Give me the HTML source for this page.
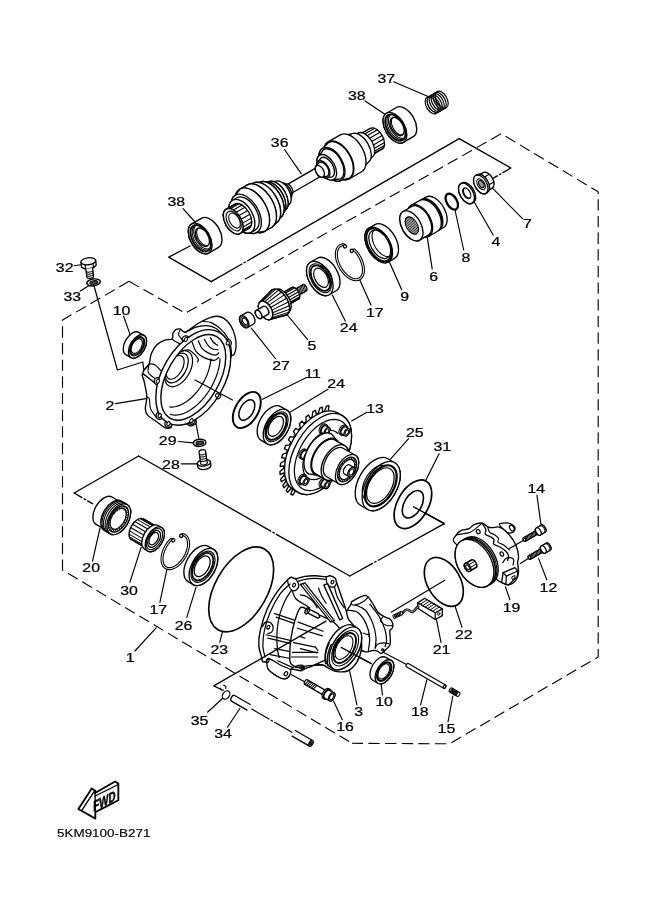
<!DOCTYPE html>
<html lang="en"><head><meta charset="utf-8"><title>Parts diagram 5KM9100-B271</title>
<style>
html,body{margin:0;padding:0;background:#fff}
svg{display:block;will-change:transform;transform:translateZ(0)}
svg *{stroke:#000;stroke-linecap:round;stroke-linejoin:round}
svg text{font-family:"Liberation Sans",sans-serif;stroke:#000;stroke-width:0.22px;fill:#000}
</style></head><body>
<svg width="661" height="913" viewBox="0 0 661 913" fill="none">
<rect x="0" y="0" width="661" height="913" fill="#fff" stroke="none" style="stroke:none"/>
<path d="M129,281.3 L62.5,320 L62.5,570 L352,743.3" stroke-width="1.12" fill="none" stroke-dasharray="11.3 5.36" stroke-dashoffset="0" style="stroke-linecap:butt;stroke-linejoin:miter"/>
<path d="M129,281.3 L185.4,313.2 L501.2,133.7 L598.2,191.8" stroke-width="1.12" fill="none" stroke-dasharray="11.3 5.36" stroke-dashoffset="0" style="stroke-linecap:butt;stroke-linejoin:miter"/>
<path d="M598.2,191.8 L598.2,657 L449.5,743.8 L352,743.3" stroke-width="1.12" fill="none" stroke-dasharray="11.3 5.36" stroke-dashoffset="9.2" style="stroke-linecap:butt;stroke-linejoin:miter"/>
<polyline points="190,246 168.7,257.2 211.2,281.7" stroke-width="1.34" fill="none"/>
<line x1="211.2" y1="281.7" x2="459.2" y2="138.7" stroke-width="1.34" stroke-dasharray="35.5 2.5 1.5 2.5 400"/>
<polyline points="459.2,138.7 510.7,168" stroke-width="1.34" fill="none"/>
<line x1="510.7" y1="168" x2="492.5" y2="178.7" stroke-width="1.34" stroke-dasharray="9 2.5 1.5 2.5"/>
<polyline points="74.2,493 138.6,456" stroke-width="1.34" fill="none"/>
<line x1="138.6" y1="456" x2="349.8" y2="576" stroke-width="1.34" stroke-dasharray="152 2.5 1.5 2.5 400"/>
<line x1="349.8" y1="576" x2="444.3" y2="523.6" stroke-width="1.34" stroke-dasharray="26 2.5 1.5 2.5 400"/>
<polyline points="444.3,523.6 413.6,506.8" stroke-width="1.34" fill="none"/>
<line x1="74.2" y1="493" x2="92.4" y2="503.7" stroke-width="1.34" stroke-dasharray="9 2.5 1.5 2.5"/>
<line x1="284.5" y1="149.5" x2="301.2" y2="173.7" stroke-width="1.16"/>
<line x1="183" y1="208.7" x2="195.5" y2="222.5" stroke-width="1.16"/>
<line x1="493" y1="188.7" x2="522.5" y2="218.7" stroke-width="1.16"/>
<line x1="474.2" y1="202" x2="493.2" y2="235" stroke-width="1.16"/>
<line x1="455" y1="210" x2="463.7" y2="250" stroke-width="1.16"/>
<line x1="359.8" y1="280" x2="371" y2="305" stroke-width="1.16"/>
<line x1="332.3" y1="295" x2="345.3" y2="321" stroke-width="1.16"/>
<line x1="287.4" y1="315" x2="307.4" y2="339.3" stroke-width="1.16"/>
<line x1="251.2" y1="328" x2="275.4" y2="358.5" stroke-width="1.16"/>
<line x1="262.5" y1="399.2" x2="306" y2="377.8" stroke-width="1.16"/>
<line x1="290" y1="412.2" x2="328" y2="389.2" stroke-width="1.16"/>
<line x1="351.6" y1="421" x2="366.8" y2="412.2" stroke-width="1.16"/>
<line x1="123.6" y1="316.2" x2="130.4" y2="335.4" stroke-width="1.16"/>
<line x1="115.6" y1="403.6" x2="146.1" y2="398.6" stroke-width="1.16"/>
<line x1="178.4" y1="441.5" x2="193.6" y2="442.8" stroke-width="1.16"/>
<line x1="181.2" y1="463.8" x2="197.4" y2="463.8" stroke-width="1.16"/>
<line x1="195.7" y1="422.4" x2="198.8" y2="438.2" stroke-width="1.16"/>
<line x1="408.6" y1="438.7" x2="388.7" y2="461.2" stroke-width="1.16"/>
<line x1="439.1" y1="453.7" x2="425.4" y2="481.1" stroke-width="1.16"/>
<line x1="536.9" y1="495" x2="541.1" y2="525.4" stroke-width="1.16"/>
<line x1="538.6" y1="558.6" x2="546.8" y2="579.8" stroke-width="1.16"/>
<line x1="505.4" y1="586.8" x2="509.9" y2="599.8" stroke-width="1.16"/>
<line x1="455" y1="606" x2="462" y2="627.2" stroke-width="1.16"/>
<line x1="436" y1="617.4" x2="441" y2="642.4" stroke-width="1.16"/>
<line x1="100" y1="528" x2="92.5" y2="561.1" stroke-width="1.16"/>
<line x1="141.1" y1="547.4" x2="129.9" y2="582.3" stroke-width="1.16"/>
<line x1="166.8" y1="569.9" x2="159.9" y2="602.3" stroke-width="1.16"/>
<line x1="196" y1="587.3" x2="186.8" y2="617.3" stroke-width="1.16"/>
<line x1="156.1" y1="627.8" x2="134.9" y2="651" stroke-width="1.16"/>
<line x1="222.3" y1="632.3" x2="219.8" y2="642.2" stroke-width="1.16"/>
<line x1="207.5" y1="712.2" x2="222.4" y2="698.5" stroke-width="1.16"/>
<line x1="227.4" y1="727.2" x2="239.9" y2="708.5" stroke-width="1.16"/>
<line x1="333.5" y1="701" x2="342.3" y2="719.7" stroke-width="1.16"/>
<line x1="381.1" y1="683.6" x2="382.4" y2="694.8" stroke-width="1.16"/>
<line x1="349.4" y1="669.8" x2="356.9" y2="704.8" stroke-width="1.16"/>
<line x1="426.8" y1="679.8" x2="420.6" y2="704.8" stroke-width="1.16"/>
<line x1="452.8" y1="696" x2="448" y2="721.8" stroke-width="1.16"/>
<line x1="444.8" y1="580.2" x2="391.2" y2="612.2" stroke-width="1.16"/>
<line x1="341.2" y1="647.4" x2="371.2" y2="663.6" stroke-width="1.16"/>
<line x1="383.6" y1="652.4" x2="406.1" y2="664.3" stroke-width="1.16"/>
<line x1="74.2" y1="265.7" x2="80.9" y2="264.8" stroke-width="1.16"/>
<line x1="80.3" y1="291.1" x2="88.7" y2="285.7" stroke-width="1.16"/>
<polyline points="93.5,284 117.4,370 142.8,362 144.3,373.6" stroke-width="1.22" fill="none"/>
<text transform="translate(386.25,83.2) scale(1.32,1)" text-anchor="middle" font-size="12.05">37</text>
<text transform="translate(356.8,100.4) scale(1.32,1)" text-anchor="middle" font-size="12.05">38</text>
<text transform="translate(279.7,147) scale(1.32,1)" text-anchor="middle" font-size="12.05">36</text>
<text transform="translate(176.25,206.3) scale(1.32,1)" text-anchor="middle" font-size="12.05">38</text>
<text transform="translate(527.45,228) scale(1.32,1)" text-anchor="middle" font-size="12.05">7</text>
<text transform="translate(496,245.7) scale(1.32,1)" text-anchor="middle" font-size="12.05">4</text>
<text transform="translate(465.85,261.7) scale(1.32,1)" text-anchor="middle" font-size="12.05">8</text>
<text transform="translate(433.55,281.4) scale(1.32,1)" text-anchor="middle" font-size="12.05">6</text>
<text transform="translate(404.55,301.1) scale(1.32,1)" text-anchor="middle" font-size="12.05">9</text>
<text transform="translate(374.8,317) scale(1.32,1)" text-anchor="middle" font-size="12.05">17</text>
<text transform="translate(348.7,332) scale(1.32,1)" text-anchor="middle" font-size="12.05">24</text>
<text transform="translate(311.8,350) scale(1.32,1)" text-anchor="middle" font-size="12.05">5</text>
<text transform="translate(281.1,370) scale(1.32,1)" text-anchor="middle" font-size="12.05">27</text>
<text transform="translate(312.7,378) scale(1.32,1)" text-anchor="middle" font-size="12.05">11</text>
<text transform="translate(336.15,388) scale(1.32,1)" text-anchor="middle" font-size="12.05">24</text>
<text transform="translate(375.05,413) scale(1.32,1)" text-anchor="middle" font-size="12.05">13</text>
<text transform="translate(64.65,271.8) scale(1.32,1)" text-anchor="middle" font-size="12.05">32</text>
<text transform="translate(72.3,301.2) scale(1.32,1)" text-anchor="middle" font-size="12.05">33</text>
<text transform="translate(121.5,315) scale(1.32,1)" text-anchor="middle" font-size="12.05">10</text>
<text transform="translate(109.8,410) scale(1.32,1)" text-anchor="middle" font-size="12.05">2</text>
<text transform="translate(167.65,445.3) scale(1.32,1)" text-anchor="middle" font-size="12.05">29</text>
<text transform="translate(170.9,468.5) scale(1.32,1)" text-anchor="middle" font-size="12.05">28</text>
<text transform="translate(414.75,437) scale(1.32,1)" text-anchor="middle" font-size="12.05">25</text>
<text transform="translate(442.35,451.2) scale(1.32,1)" text-anchor="middle" font-size="12.05">31</text>
<text transform="translate(536.35,493) scale(1.32,1)" text-anchor="middle" font-size="12.05">14</text>
<text transform="translate(548.45,592.3) scale(1.32,1)" text-anchor="middle" font-size="12.05">12</text>
<text transform="translate(511.55,611.5) scale(1.32,1)" text-anchor="middle" font-size="12.05">19</text>
<text transform="translate(463.75,638.5) scale(1.32,1)" text-anchor="middle" font-size="12.05">22</text>
<text transform="translate(441.5,654.1) scale(1.32,1)" text-anchor="middle" font-size="12.05">21</text>
<text transform="translate(91.2,571.8) scale(1.32,1)" text-anchor="middle" font-size="12.05">20</text>
<text transform="translate(129.05,594.8) scale(1.32,1)" text-anchor="middle" font-size="12.05">30</text>
<text transform="translate(158.25,614) scale(1.32,1)" text-anchor="middle" font-size="12.05">17</text>
<text transform="translate(183.55,629.8) scale(1.32,1)" text-anchor="middle" font-size="12.05">26</text>
<text transform="translate(130.25,662.2) scale(1.32,1)" text-anchor="middle" font-size="12.05">1</text>
<text transform="translate(219.3,653.6) scale(1.32,1)" text-anchor="middle" font-size="12.05">23</text>
<text transform="translate(199.6,724.7) scale(1.32,1)" text-anchor="middle" font-size="12.05">35</text>
<text transform="translate(223.1,738.4) scale(1.32,1)" text-anchor="middle" font-size="12.05">34</text>
<text transform="translate(345,731) scale(1.32,1)" text-anchor="middle" font-size="12.05">16</text>
<text transform="translate(358.65,716) scale(1.32,1)" text-anchor="middle" font-size="12.05">3</text>
<text transform="translate(384.05,706) scale(1.32,1)" text-anchor="middle" font-size="12.05">10</text>
<text transform="translate(419.8,715.5) scale(1.32,1)" text-anchor="middle" font-size="12.05">18</text>
<text transform="translate(446.45,732.7) scale(1.32,1)" text-anchor="middle" font-size="12.05">15</text>
<text transform="translate(57,837) scale(1.16,1)" font-size="11.6" style="stroke-width:0.15px">5KM9100-B271</text>
<g transform="translate(233.2,221.3) rotate(-30)">
<path d="M60,-4.8L104,-4.8A2.77,4.8 0 0 1 104,4.8L60,4.8A2.77,4.8 0 0 1 60,-4.8Z" stroke-width="1.34" fill="#fff"/>
<ellipse cx="60" cy="0" rx="2.77" ry="4.8" stroke-width="1.34" fill="#fff"/>
<path d="M150,-12L165,-12A6.92,12 0 0 1 165,12L150,12A6.92,12 0 0 1 150,-12Z" stroke-width="1.34" fill="#fff"/>
<ellipse cx="150" cy="0" rx="6.92" ry="12" stroke-width="1.34" fill="#fff"/>
<path d="M153.97,-9.83L168.97,-9.83M155.57,-7.13L170.57,-7.13M156.59,-3.68L171.59,-3.68M156.92,0.15L171.92,0.15M156.54,3.96L171.54,3.96M155.47,7.36L170.47,7.36M153.83,10L168.83,10M151.79,11.59L166.79,11.59" stroke-width="1.1" fill="none"/>
<path d="M146,-15L152,-14A8.08,14 0 0 1 152,14L146,15A8.65,15 0 0 1 146,-15Z" stroke-width="1.34" fill="#fff"/>
<ellipse cx="146" cy="0" rx="8.65" ry="15" stroke-width="1.34" fill="#fff"/>
<path d="M136,-20L146,-16.5A9.52,16.5 0 0 1 146,16.5L136,20A11.54,20 0 0 1 136,-20Z" stroke-width="1.34" fill="#fff"/>
<ellipse cx="136" cy="0" rx="11.54" ry="20" stroke-width="1.34" fill="#fff"/>
<path d="M122,-21.3L136,-21.3A12.29,21.3 0 0 1 136,21.3L122,21.3A12.29,21.3 0 0 1 122,-21.3Z" stroke-width="1.34" fill="#fff"/>
<ellipse cx="122" cy="0" rx="12.29" ry="21.3" stroke-width="1.34" fill="#fff"/>
<path d="M114,-18.5L122,-20.5A11.83,20.5 0 0 1 122,20.5L114,18.5A10.67,18.5 0 0 1 114,-18.5Z" stroke-width="1.34" fill="#fff"/>
<ellipse cx="114" cy="0" rx="10.67" ry="18.5" stroke-width="1.34" fill="#fff"/>
<path d="M108,-14L114,-17A9.81,17 0 0 1 114,17L108,14A8.08,14 0 0 1 108,-14Z" stroke-width="1.34" fill="#fff"/>
<ellipse cx="108" cy="0" rx="8.08" ry="14" stroke-width="1.34" fill="#fff"/>
<path d="M104,-9.5L108,-11A6.35,11 0 0 1 108,11L104,9.5A5.48,9.5 0 0 1 104,-9.5Z" stroke-width="1.34" fill="#fff"/>
<ellipse cx="104" cy="0" rx="5.48" ry="9.5" stroke-width="1.34" fill="#fff"/>
<path d="M100,-6.5L104,-8A4.62,8 0 0 1 104,8L100,6.5A3.75,6.5 0 0 1 100,-6.5Z" stroke-width="1.34" fill="#fff"/>
<ellipse cx="100" cy="0" rx="3.75" ry="6.5" stroke-width="1.34" fill="#fff"/>
<path d="M60,-8L64,-6A3.46,6 0 0 1 64,6L60,8A4.62,8 0 0 1 60,-8Z" stroke-width="1.34" fill="#fff"/>
<ellipse cx="60" cy="0" rx="4.62" ry="8" stroke-width="1.34" fill="#fff"/>
<path d="M56,-12.5L60,-9.5A5.48,9.5 0 0 1 60,9.5L56,12.5A7.21,12.5 0 0 1 56,-12.5Z" stroke-width="1.34" fill="#fff"/>
<ellipse cx="56" cy="0" rx="7.21" ry="12.5" stroke-width="1.34" fill="#fff"/>
<path d="M50,-16.5L56,-13.5A7.79,13.5 0 0 1 56,13.5L50,16.5A9.52,16.5 0 0 1 50,-16.5Z" stroke-width="1.34" fill="#fff"/>
<ellipse cx="50" cy="0" rx="9.52" ry="16.5" stroke-width="1.34" fill="#fff"/>
<path d="M46,-18L50,-16.5A9.52,16.5 0 0 1 50,16.5L46,18A10.39,18 0 0 1 46,-18Z" stroke-width="1.34" fill="#fff"/>
<ellipse cx="46" cy="0" rx="10.39" ry="18" stroke-width="1.34" fill="#fff"/>
<path d="M42,-20.5L46,-18A10.39,18 0 0 1 46,18L42,20.5A11.83,20.5 0 0 1 42,-20.5Z" stroke-width="1.34" fill="#fff"/>
<ellipse cx="42" cy="0" rx="11.83" ry="20.5" stroke-width="1.34" fill="#fff"/>
<path d="M36,-23L42,-20.5A11.83,20.5 0 0 1 42,20.5L36,23A13.27,23 0 0 1 36,-23Z" stroke-width="1.34" fill="#fff"/>
<ellipse cx="36" cy="0" rx="13.27" ry="23" stroke-width="1.34" fill="#fff"/>
<path d="M30,-24.5L36,-23A13.27,23 0 0 1 36,23L30,24.5A14.14,24.5 0 0 1 30,-24.5Z" stroke-width="1.34" fill="#fff"/>
<ellipse cx="30" cy="0" rx="14.14" ry="24.5" stroke-width="1.34" fill="#fff"/>
<path d="M22,-24.5L30,-24.5A14.14,24.5 0 0 1 30,24.5L22,24.5A14.14,24.5 0 0 1 22,-24.5Z" stroke-width="1.34" fill="#fff"/>
<ellipse cx="22" cy="0" rx="14.14" ry="24.5" stroke-width="1.34" fill="#fff"/>
<path d="M15,-21.5L22,-24.5A14.14,24.5 0 0 1 22,24.5L15,21.5A12.41,21.5 0 0 1 15,-21.5Z" stroke-width="1.34" fill="#fff"/>
<ellipse cx="15" cy="0" rx="12.41" ry="21.5" stroke-width="1.34" fill="#fff"/>
<path d="M10,-18.5L15,-18.5A10.67,18.5 0 0 1 15,18.5L10,18.5A10.67,18.5 0 0 1 10,-18.5Z" stroke-width="1.34" fill="#fff"/>
<ellipse cx="10" cy="0" rx="10.67" ry="18.5" stroke-width="1.34" fill="#fff"/>
<path d="M0,-14L10,-14A8.08,14 0 0 1 10,14L0,14A8.08,14 0 0 1 0,-14Z" stroke-width="1.34" fill="#fff"/>
<ellipse cx="0" cy="0" rx="8.08" ry="14" stroke-width="1.34" fill="#fff"/>
<path d="M1.4,-13.79L11.4,-13.79M3.76,-12.39L13.76,-12.39M5.77,-9.8L15.77,-9.8M7.22,-6.28L17.22,-6.28M7.98,-2.16L17.98,-2.16M7.98,2.16L17.98,2.16M7.22,6.28L17.22,6.28M5.77,9.8L15.77,9.8M3.76,12.39L13.76,12.39M1.4,13.79L11.4,13.79" stroke-width="1.1" fill="none"/>
<ellipse cx="0" cy="0" rx="8.08" ry="14" stroke-width="1.34" fill="#fff"/>
<ellipse cx="0.5" cy="0" rx="6.23" ry="10.8" stroke-width="1.1" fill="#fff"/>
<ellipse cx="1.5" cy="0" rx="4.79" ry="8.3" stroke-width="1.1" fill="#fff"/>
</g>
<g transform="translate(200.2,238.5) rotate(-30)">
<path d="M0,-16.8L11.5,-16.8A9.69,16.8 0 0 1 11.5,16.8L0,16.8A9.69,16.8 0 0 1 0,-16.8Z" stroke-width="1.4" fill="#fff"/>
<ellipse cx="0" cy="0" rx="9.69" ry="16.8" stroke-width="1.4" fill="#fff"/>
<ellipse cx="0.5" cy="0" rx="8.34" ry="14.45" stroke-width="1.83" fill="#fff"/>
<path d="M1.31,13.72L0.72,13.6L0.14,13.4L-0.42,13.12L-0.98,12.77L-1.52,12.36L-2.03,11.87L-2.53,11.32L-3,10.71L-3.45,10.03L-3.86,9.31L-4.24,8.53L-4.59,7.7L-4.9,6.84L-5.17,5.93L-5.41,4.99L-5.6,4.03L-5.75,3.04L-5.86,2.04L-5.93,1.02L-5.95,0L-5.93,-1.02L-5.86,-2.04L-5.75,-3.04L-5.6,-4.03L-5.41,-4.99L-5.17,-5.93L-4.9,-6.84L-4.59,-7.7L-4.24,-8.53L-3.86,-9.31L-3.45,-10.03L-3,-10.71L-2.53,-11.32L-2.03,-11.87L-1.52,-12.36L-0.98,-12.77L-0.42,-13.12L0.14,-13.4L0.72,-13.6L1.31,-13.72" stroke-width="1.1" fill="none" style="stroke:#000"/>
<path d="M2.15,13.24L1.62,13.04L1.1,12.78L0.59,12.46L0.1,12.08L-0.38,11.64L-0.84,11.14L-1.27,10.59L-1.69,9.99L-2.08,9.34L-2.44,8.64L-2.77,7.9L-3.08,7.12L-3.35,6.31L-3.58,5.47L-3.79,4.6L-3.95,3.7L-4.09,2.79L-4.18,1.87L-4.24,0.94L-4.25,0L-4.24,-0.94L-4.18,-1.87L-4.09,-2.79L-3.95,-3.7L-3.79,-4.6L-3.58,-5.47L-3.35,-6.31L-3.08,-7.12L-2.77,-7.9L-2.44,-8.64L-2.08,-9.34L-1.69,-9.99L-1.27,-10.59L-0.84,-11.14L-0.38,-11.64L0.1,-12.08L0.59,-12.46L1.1,-12.78L1.62,-13.04L2.15,-13.24" stroke-width="1.1" fill="none" style="stroke:#000"/>
<ellipse cx="2.6" cy="0" rx="5.82" ry="10.08" stroke-width="1.46" fill="#fff"/>
<path d="M2.21,9.47L1.88,9.24L1.56,8.98L1.25,8.69L0.95,8.36L0.66,8L0.38,7.61L0.12,7.19L-0.12,6.74L-0.35,6.27L-0.56,5.78L-0.76,5.27L-0.94,4.73L-1.09,4.18L-1.23,3.61L-1.35,3.03L-1.44,2.44L-1.52,1.84L-1.57,1.23L-1.61,0.62L-1.62,0L-1.61,-0.62L-1.57,-1.23L-1.52,-1.84L-1.44,-2.44L-1.35,-3.03L-1.23,-3.61L-1.09,-4.18L-0.94,-4.73L-0.76,-5.27L-0.56,-5.78L-0.35,-6.27L-0.12,-6.74L0.12,-7.19L0.38,-7.61L0.66,-8L0.95,-8.36L1.25,-8.69L1.56,-8.98L1.88,-9.24L2.21,-9.47" stroke-width="1.1" fill="none" style="stroke:#000"/>
</g>
<g transform="translate(394.9,127.8) rotate(-30)">
<path d="M0,-16.8L11.5,-16.8A9.69,16.8 0 0 1 11.5,16.8L0,16.8A9.69,16.8 0 0 1 0,-16.8Z" stroke-width="1.4" fill="#fff"/>
<ellipse cx="0" cy="0" rx="9.69" ry="16.8" stroke-width="1.4" fill="#fff"/>
<ellipse cx="0.5" cy="0" rx="8.34" ry="14.45" stroke-width="1.83" fill="#fff"/>
<path d="M1.31,13.72L0.72,13.6L0.14,13.4L-0.42,13.12L-0.98,12.77L-1.52,12.36L-2.03,11.87L-2.53,11.32L-3,10.71L-3.45,10.03L-3.86,9.31L-4.24,8.53L-4.59,7.7L-4.9,6.84L-5.17,5.93L-5.41,4.99L-5.6,4.03L-5.75,3.04L-5.86,2.04L-5.93,1.02L-5.95,0L-5.93,-1.02L-5.86,-2.04L-5.75,-3.04L-5.6,-4.03L-5.41,-4.99L-5.17,-5.93L-4.9,-6.84L-4.59,-7.7L-4.24,-8.53L-3.86,-9.31L-3.45,-10.03L-3,-10.71L-2.53,-11.32L-2.03,-11.87L-1.52,-12.36L-0.98,-12.77L-0.42,-13.12L0.14,-13.4L0.72,-13.6L1.31,-13.72" stroke-width="1.1" fill="none" style="stroke:#000"/>
<path d="M2.15,13.24L1.62,13.04L1.1,12.78L0.59,12.46L0.1,12.08L-0.38,11.64L-0.84,11.14L-1.27,10.59L-1.69,9.99L-2.08,9.34L-2.44,8.64L-2.77,7.9L-3.08,7.12L-3.35,6.31L-3.58,5.47L-3.79,4.6L-3.95,3.7L-4.09,2.79L-4.18,1.87L-4.24,0.94L-4.25,0L-4.24,-0.94L-4.18,-1.87L-4.09,-2.79L-3.95,-3.7L-3.79,-4.6L-3.58,-5.47L-3.35,-6.31L-3.08,-7.12L-2.77,-7.9L-2.44,-8.64L-2.08,-9.34L-1.69,-9.99L-1.27,-10.59L-0.84,-11.14L-0.38,-11.64L0.1,-12.08L0.59,-12.46L1.1,-12.78L1.62,-13.04L2.15,-13.24" stroke-width="1.1" fill="none" style="stroke:#000"/>
<ellipse cx="2.6" cy="0" rx="5.82" ry="10.08" stroke-width="1.46" fill="#fff"/>
<path d="M2.21,9.47L1.88,9.24L1.56,8.98L1.25,8.69L0.95,8.36L0.66,8L0.38,7.61L0.12,7.19L-0.12,6.74L-0.35,6.27L-0.56,5.78L-0.76,5.27L-0.94,4.73L-1.09,4.18L-1.23,3.61L-1.35,3.03L-1.44,2.44L-1.52,1.84L-1.57,1.23L-1.61,0.62L-1.62,0L-1.61,-0.62L-1.57,-1.23L-1.52,-1.84L-1.44,-2.44L-1.35,-3.03L-1.23,-3.61L-1.09,-4.18L-0.94,-4.73L-0.76,-5.27L-0.56,-5.78L-0.35,-6.27L-0.12,-6.74L0.12,-7.19L0.38,-7.61L0.66,-8L0.95,-8.36L1.25,-8.69L1.56,-8.98L1.88,-9.24L2.21,-9.47" stroke-width="1.1" fill="none" style="stroke:#000"/>
</g>
<g transform="translate(431.7,105.4) rotate(-30)">
<ellipse cx="11.5" cy="0" rx="5.37" ry="9.3" stroke-width="1.16" fill="none"/>
<ellipse cx="9.2" cy="0" rx="5.37" ry="9.3" stroke-width="1.16" fill="none"/>
<ellipse cx="6.9" cy="0" rx="5.37" ry="9.3" stroke-width="1.16" fill="none"/>
<ellipse cx="4.6" cy="0" rx="5.37" ry="9.3" stroke-width="1.16" fill="none"/>
<ellipse cx="2.3" cy="0" rx="5.37" ry="9.3" stroke-width="1.16" fill="none"/>
<ellipse cx="0" cy="0" rx="5.37" ry="9.3" stroke-width="1.16" fill="none"/>
<path d="M-0.4,7.14L-0.65,6.97L-0.89,6.77L-1.13,6.55L-1.35,6.3L-1.57,6.03L-1.78,5.74L-1.97,5.42L-2.16,5.09L-2.33,4.73L-2.49,4.36L-2.64,3.97L-2.77,3.57L-2.89,3.15L-2.99,2.72L-3.08,2.29L-3.15,1.84L-3.21,1.38L-3.25,0.93L-3.28,0.46L-3.29,0L-3.28,-0.46L-3.25,-0.93L-3.21,-1.38L-3.15,-1.84L-3.08,-2.29L-2.99,-2.72L-2.89,-3.15L-2.77,-3.57L-2.64,-3.97L-2.49,-4.36L-2.33,-4.73L-2.16,-5.09L-1.97,-5.42L-1.78,-5.74L-1.57,-6.03L-1.35,-6.3L-1.13,-6.55L-0.89,-6.77L-0.65,-6.97L-0.4,-7.14" stroke-width="0.98" fill="none" style="stroke:#000"/>
</g>
<line x1="393.6" y1="81.8" x2="429.9" y2="97.2" stroke-width="1.22"/>
<line x1="365.1" y1="100.9" x2="384.5" y2="114.1" stroke-width="1.22"/>
<line x1="427.1" y1="236.3" x2="432.2" y2="269" stroke-width="1.22"/>
<line x1="389.4" y1="262.1" x2="401.7" y2="289.8" stroke-width="1.22"/>
<g transform="translate(480.8,184.4) rotate(-30)">
<path d="M1.5,-9L8,-9A5.19,9 0 0 1 8,9L1.5,9A5.19,9 0 0 1 1.5,-9Z" stroke-width="1.34" fill="#fff"/>
<ellipse cx="1.5" cy="0" rx="5.19" ry="9" stroke-width="1.34" fill="#fff"/>
<path d="M6.91,-4.5L12.41,-4.5M6.91,4.5L12.41,4.5" stroke-width="1.1" fill="none"/>
<path d="M0,-10.3L1.8,-10.3A5.94,10.3 0 0 1 1.8,10.3L0,10.3A5.94,10.3 0 0 1 0,-10.3Z" stroke-width="1.34" fill="#fff"/>
<ellipse cx="0" cy="0" rx="5.94" ry="10.3" stroke-width="1.34" fill="#fff"/>
<ellipse cx="0.3" cy="0" rx="3.46" ry="6" stroke-width="1.1" fill="#fff"/>
<ellipse cx="0.6" cy="0" rx="2.31" ry="4" stroke-width="1.1" fill="#999"/>
</g>
<g transform="translate(466.5,193.4) rotate(-30)">
<path d="M0,-11.3L1.4,-11.3A6.52,11.3 0 0 1 1.4,11.3L0,11.3A6.52,11.3 0 0 1 0,-11.3Z" stroke-width="1.34" fill="#fff"/>
<ellipse cx="0" cy="0" rx="6.52" ry="11.3" stroke-width="1.34" fill="#fff"/>
<ellipse cx="0.3" cy="0" rx="3.35" ry="5.8" stroke-width="1.22" fill="#fff"/>
<path d="M0.62,5.71L0.39,5.63L0.17,5.52L-0.05,5.38L-0.27,5.21L-0.47,5.02L-0.67,4.81L-0.86,4.57L-1.04,4.31L-1.21,4.03L-1.36,3.73L-1.51,3.41L-1.64,3.07L-1.75,2.72L-1.86,2.36L-1.94,1.98L-2.02,1.6L-2.07,1.21L-2.11,0.81L-2.14,0.4L-2.15,0L-2.14,-0.4L-2.11,-0.81L-2.07,-1.21L-2.02,-1.6L-1.94,-1.98L-1.86,-2.36L-1.75,-2.72L-1.64,-3.07L-1.51,-3.41L-1.36,-3.73L-1.21,-4.03L-1.04,-4.31L-0.86,-4.57L-0.67,-4.81L-0.47,-5.02L-0.27,-5.21L-0.05,-5.38L0.17,-5.52L0.39,-5.63L0.62,-5.71" stroke-width="1.1" fill="none" style="stroke:#000"/>
</g>
<g transform="translate(451.8,201.6) rotate(-30)">
<ellipse cx="0" cy="0" rx="5.08" ry="8.8" stroke-width="2.32" fill="none"/>
</g>
<g transform="translate(411.4,225.8) rotate(-30)">
<path d="M22,-17.5L27,-17.5A10.1,17.5 0 0 1 27,17.5L22,17.5A10.1,17.5 0 0 1 22,-17.5Z" stroke-width="1.34" fill="#fff"/>
<ellipse cx="22" cy="0" rx="10.1" ry="17.5" stroke-width="1.34" fill="#fff"/>
<path d="M20,-16.5L22,-16.5A9.52,16.5 0 0 1 22,16.5L20,16.5A9.52,16.5 0 0 1 20,-16.5Z" stroke-width="1.34" fill="#fff"/>
<ellipse cx="20" cy="0" rx="9.52" ry="16.5" stroke-width="1.34" fill="#fff"/>
<path d="M10,-17.8L20,-17.8A10.27,17.8 0 0 1 20,17.8L10,17.8A10.27,17.8 0 0 1 10,-17.8Z" stroke-width="1.34" fill="#fff"/>
<ellipse cx="10" cy="0" rx="10.27" ry="17.8" stroke-width="1.34" fill="#fff"/>
<path d="M0,-16.5L10,-16.5A9.52,16.5 0 0 1 10,16.5L0,16.5A9.52,16.5 0 0 1 0,-16.5Z" stroke-width="1.34" fill="#fff"/>
<ellipse cx="0" cy="0" rx="9.52" ry="16.5" stroke-width="1.34" fill="#fff"/>
<ellipse cx="0.5" cy="0" rx="5.48" ry="9.5" stroke-width="1.1" fill="#fff"/>
<path d="M-3.4,-6.68L-3.4,6.68M-2.1,-8.36L-2.1,8.36M-0.8,-9.23L-0.8,9.23M0.5,-9.5L0.5,9.5M1.8,-9.23L1.8,9.23M3.1,-8.36L3.1,8.36M4.4,-6.68L4.4,6.68" stroke-width="0.73" fill="none"/>
</g>
<g transform="translate(378.7,245) rotate(-30)">
<path d="M0,-19.5L7,-19.5A11.25,19.5 0 0 1 7,19.5L0,19.5A11.25,19.5 0 0 1 0,-19.5Z" stroke-width="1.34" fill="#fff"/>
<ellipse cx="0" cy="0" rx="11.25" ry="19.5" stroke-width="1.34" fill="#fff"/>
<ellipse cx="0.4" cy="0" rx="10.39" ry="18" stroke-width="1.95" fill="#fff"/>
<ellipse cx="1.2" cy="0" rx="8.94" ry="15.5" stroke-width="1.22" fill="#fff"/>
<path d="M4.22,15.44L3.56,15.3L2.91,15.07L2.27,14.76L1.65,14.37L1.04,13.9L0.46,13.36L-0.1,12.74L-0.63,12.05L-1.13,11.29L-1.59,10.47L-2.02,9.6L-2.41,8.67L-2.76,7.69L-3.07,6.67L-3.34,5.62L-3.55,4.53L-3.72,3.42L-3.85,2.29L-3.92,1.15L-3.94,0L-3.92,-1.15L-3.85,-2.29L-3.72,-3.42L-3.55,-4.53L-3.34,-5.62L-3.07,-6.67L-2.76,-7.69L-2.41,-8.67L-2.02,-9.6L-1.59,-10.47L-1.13,-11.29L-0.63,-12.05L-0.1,-12.74L0.46,-13.36L1.04,-13.9L1.65,-14.37L2.27,-14.76L2.91,-15.07L3.56,-15.3L4.22,-15.44" stroke-width="1.1" fill="none" style="stroke:#000"/>
</g>
<g transform="translate(349.9,262.2) rotate(-30)">
<path d="M9.96,-8.42L10.53,-5.98L10.9,-3.43L11.07,-0.82L11.03,1.81L10.78,4.4L10.34,6.91L9.69,9.29L8.87,11.5L7.88,13.49L6.74,15.23L5.48,16.69L4.11,17.83L2.67,18.63L1.18,19.09L-0.34,19.19L-1.85,18.93L-3.32,18.32L-4.73,17.36L-6.06,16.08L-7.27,14.49L-8.34,12.63L-9.26,10.54L-10,8.25L-10.56,5.81L-10.92,3.25L-11.07,0.64L-11.02,-1.99L-10.76,-4.58L-10.3,-7.08L-9.64,-9.45L-8.81,-11.65L-7.81,-13.62L-6.66,-15.34L-5.39,-16.78L-4.02,-17.89L-2.57,-18.68L-1.07,-19.11L0.44,-19.18L1.95,-18.9L3.42,-18.26" stroke-width="3.05" fill="none" style="stroke:#000"/>
<path d="M9.96,-8.42L10.53,-5.98L10.9,-3.43L11.07,-0.82L11.03,1.81L10.78,4.4L10.34,6.91L9.69,9.29L8.87,11.5L7.88,13.49L6.74,15.23L5.48,16.69L4.11,17.83L2.67,18.63L1.18,19.09L-0.34,19.19L-1.85,18.93L-3.32,18.32L-4.73,17.36L-6.06,16.08L-7.27,14.49L-8.34,12.63L-9.26,10.54L-10,8.25L-10.56,5.81L-10.92,3.25L-11.07,0.64L-11.02,-1.99L-10.76,-4.58L-10.3,-7.08L-9.64,-9.45L-8.81,-11.65L-7.81,-13.62L-6.66,-15.34L-5.39,-16.78L-4.02,-17.89L-2.57,-18.68L-1.07,-19.11L0.44,-19.18L1.95,-18.9L3.42,-18.26" stroke-width="0.92" fill="none" style="stroke:#fff"/>
<circle cx="3.6" cy="-16.24" r="1.6" stroke-width="1.34" fill="#fff"/>
<circle cx="7.37" cy="-8.95" r="1.6" stroke-width="1.34" fill="#fff"/>
</g>
<g transform="translate(319.8,278.5) rotate(-30)">
<path d="M0,-18.8L8,-18.8A10.85,18.8 0 0 1 8,18.8L0,18.8A10.85,18.8 0 0 1 0,-18.8Z" stroke-width="1.34" fill="#fff"/>
<ellipse cx="0" cy="0" rx="10.85" ry="18.8" stroke-width="1.34" fill="#fff"/>
<ellipse cx="0.5" cy="0" rx="9.11" ry="15.79" stroke-width="1.1" fill="#fff"/>
<ellipse cx="0.8" cy="0" rx="8.03" ry="13.91" stroke-width="1.83" fill="#fff"/>
<ellipse cx="1.4" cy="0" rx="6.07" ry="10.53" stroke-width="1.22" fill="#fff"/>
<path d="M7.17,-10.17L7.55,-9.97L7.92,-9.73L8.29,-9.44L8.64,-9.12L8.97,-8.75L9.3,-8.35L9.61,-7.92L9.9,-7.44L10.17,-6.94L10.42,-6.41L10.65,-5.85L10.86,-5.26L11.05,-4.66L11.21,-4.03L11.35,-3.38L11.47,-2.72L11.56,-2.05L11.62,-1.37L11.66,-0.69L11.67,0L11.66,0.69L11.62,1.37L11.56,2.05L11.47,2.72L11.35,3.38L11.21,4.03L11.05,4.66L10.86,5.26L10.65,5.85L10.42,6.41L10.17,6.94L9.9,7.44L9.61,7.92L9.3,8.35L8.97,8.75L8.64,9.12L8.29,9.44L7.92,9.73L7.55,9.97L7.17,10.17" stroke-width="1.1" fill="none" style="stroke:#000"/>
</g>
<g transform="translate(258.6,314.4) rotate(-30)">
<path d="M42,-3.6L53,-3.6A2.08,3.6 0 0 1 53,3.6L42,3.6A2.08,3.6 0 0 1 42,-3.6Z" stroke-width="1.34" fill="#fff"/>
<ellipse cx="42" cy="0" rx="2.08" ry="3.6" stroke-width="1.34" fill="#fff"/>
<path d="M45,-3.4L43.6,3.4M46.5,-3.4L45.1,3.4M48,-3.4L46.6,3.4M49.5,-3.4L48.1,3.4M51,-3.4L49.6,3.4M52.5,-3.4L51.1,3.4M54,-3.4L52.6,3.4" stroke-width="0.98" fill="none"/>
<path d="M30,-6.8L42,-6.8A3.92,6.8 0 0 1 42,6.8L30,6.8A3.92,6.8 0 0 1 30,-6.8Z" stroke-width="1.34" fill="#fff"/>
<ellipse cx="30" cy="0" rx="3.92" ry="6.8" stroke-width="1.34" fill="#fff"/>
<path d="M31.34,-6.39L43.34,-6.39M32.73,-4.88L44.73,-4.88M33.65,-2.51L45.65,-2.51M33.92,0.3L45.92,0.3M33.51,3.05L45.51,3.05M32.48,5.27L44.48,5.27M31.02,6.57L43.02,6.57" stroke-width="1.1" fill="none"/>
<path d="M24,-14.5L27,-13A7.5,13 0 0 1 27,13L24,14.5A8.37,14.5 0 0 1 24,-14.5Z" stroke-width="1.34" fill="#fff"/>
<ellipse cx="24" cy="0" rx="8.37" ry="14.5" stroke-width="1.34" fill="#fff"/>
<path d="M8,-10.2L24,-14.5A8.37,14.5 0 0 1 24,14.5L8,10.2A5.89,10.2 0 0 1 8,-10.2Z" stroke-width="1.34" fill="#fff"/>
<ellipse cx="8" cy="0" rx="5.89" ry="10.2" stroke-width="1.34" fill="#fff"/>
<path d="M6.98,-10.05L22.55,-14.28M8.68,-10.13L24.97,-14.4M10.33,-9.37L27.31,-13.31M11.78,-7.81L29.38,-11.11M12.92,-5.6L30.99,-7.97M13.64,-2.93L32.02,-4.16M13.89,0L32.37,0M13.64,2.93L32.02,4.16M12.92,5.6L30.99,7.97M11.78,7.81L29.38,11.11M10.33,9.37L27.31,13.31M8.68,10.13L24.97,14.4M6.98,10.05L22.55,14.28" stroke-width="0.98" fill="none"/>
<ellipse cx="8" cy="0" rx="5.89" ry="10.2" stroke-width="1.34" fill="#fff"/>
<path d="M0,-4.6L8,-4.6A2.65,4.6 0 0 1 8,4.6L0,4.6A2.65,4.6 0 0 1 0,-4.6Z" stroke-width="1.34" fill="#fff"/>
<ellipse cx="0" cy="0" rx="2.65" ry="4.6" stroke-width="1.34" fill="#fff"/>
</g>
<g transform="translate(244.2,321.7) rotate(-30)">
<path d="M0,-6.7L7,-6.7A3.87,6.7 0 0 1 7,6.7L0,6.7A3.87,6.7 0 0 1 0,-6.7Z" stroke-width="1.34" fill="#fff"/>
<ellipse cx="0" cy="0" rx="3.87" ry="6.7" stroke-width="1.34" fill="#fff"/>
<ellipse cx="0.4" cy="0" rx="3" ry="5.2" stroke-width="1.22" fill="#fff"/>
<ellipse cx="0.8" cy="0" rx="2.08" ry="3.6" stroke-width="1.1" fill="#fff"/>
</g>
<path d="M149.08,364.19C150.21,361.55 150.09,356.81 151.35,353.6C152.61,350.4 154.5,347.2 156.64,344.98C158.78,342.76 161.63,341.3 164.21,340.29C166.78,339.28 170.61,340.11 172.07,338.93C173.54,337.74 172.27,334.77 172.98,333.18C173.69,331.59 175.05,330.08 176.31,329.4C177.57,328.72 179.03,328.64 180.54,329.1C182.06,329.55 182.56,333 185.39,332.12C188.21,331.24 193.71,326.09 197.49,323.8C201.27,321.51 204.93,319.61 208.08,318.35C211.23,317.09 213.75,316.24 216.4,316.24C219.05,316.24 221.57,316.79 223.96,318.35C226.36,319.92 228.93,322.64 230.77,325.62C232.61,328.59 234.13,332.68 235.01,336.21C235.89,339.74 236.22,343.77 236.07,346.8C235.92,349.82 234.98,352.67 234.1,354.36C233.22,356.05 232.33,353.91 230.77,356.93C229.21,359.96 231.02,368.91 224.72,372.51C218.42,376.12 204.55,376.8 192.95,378.57C181.35,380.33 162.82,383.1 155.13,383.1C147.44,383.1 148.88,380.08 146.81,378.57C144.74,377.05 143.1,375.54 142.72,374.03C142.34,372.51 143.48,371.13 144.54,369.49C145.6,367.85 147.94,366.84 149.08,364.19Z" stroke-width="1.34" fill="#fff"/>
<path d="M142.72,374.03C140.96,374.03 143.86,379.32 144.54,383.1C145.22,386.89 146.68,392.43 146.81,396.72C146.93,401.01 145.17,405.75 145.3,408.82C145.42,411.9 145.67,413.03 147.56,415.18C149.46,417.32 153.74,419.59 156.64,421.68C159.54,423.78 162.57,426.73 164.96,427.73C167.36,428.74 169.75,428.31 171.01,427.73C172.27,427.15 170.13,424.96 172.53,424.25C174.92,423.55 182.49,423.25 185.39,423.5C188.29,423.75 188.51,425.54 189.92,425.77C191.34,425.99 192.85,425.77 193.86,424.86C194.87,423.95 197.39,424 195.98,420.32C194.56,416.64 192.19,408.97 185.39,402.77C178.58,396.57 162.24,387.9 155.13,383.1C148.02,378.31 144.49,374.03 142.72,374.03Z" stroke-width="1.34" fill="#fff"/>
<path d="M185.39,332.42C187.15,331.54 192.45,328.26 195.98,327.13C199.51,325.99 203.29,325.41 206.57,325.62C209.84,325.82 212.74,326.57 215.64,328.34C218.54,330.1 221.74,333.76 223.96,336.21C226.18,338.65 228.12,341.88 228.96,343.01" stroke-width="1.22" fill="none"/>
<path d="M203.54,321.38C204.8,321.58 208.33,321.38 211.1,322.59C213.88,323.8 217.41,326.12 220.18,328.64C222.96,331.16 225.98,334.69 227.75,337.72C229.51,340.74 230.14,343.9 230.77,346.8C231.4,349.7 231.4,353.73 231.53,355.12" stroke-width="1.22" fill="none"/>
<path d="M172.07,338.93C172.65,339.36 173.96,340.57 175.55,341.5C177.14,342.43 180.6,344.02 181.6,344.53" stroke-width="1.22" fill="none"/>
<path d="M180.54,329.1C180.22,330.03 178.15,332.75 178.58,334.69C179.01,336.63 182.36,339.74 183.12,340.74" stroke-width="1.1" fill="none"/>
<path d="M144.54,369.49C145.3,368.61 147.31,364.95 149.08,364.19C150.84,363.44 153.24,363.94 155.13,364.95C157.02,365.96 159.54,369.36 160.42,370.25" stroke-width="1.22" fill="none"/>
<path d="M149.08,364.19C148.95,365.58 147.31,370.12 148.32,372.51C149.33,374.91 153.99,377.56 155.13,378.57" stroke-width="1.1" fill="none"/>
<path d="M146.81,396.72C147.24,397.1 148.75,396.97 149.38,398.99C150.01,401.01 149.38,405.67 150.59,408.82C151.8,411.97 155.63,416.39 156.64,417.9" stroke-width="1.1" fill="none"/>
<g transform="translate(193.3,377.4) rotate(210)">
</g><circle cx="185.84" cy="339.53" r="3.6" stroke-width="1.34" fill="#fff"/><g transform="translate(193.3,377.4) rotate(210)">
</g><circle cx="227.75" cy="343.01" r="3.6" stroke-width="1.34" fill="#fff"/><g transform="translate(193.3,377.4) rotate(210)">
</g><circle cx="157.85" cy="381.29" r="3.6" stroke-width="1.34" fill="#fff"/><g transform="translate(193.3,377.4) rotate(210)">
</g><circle cx="217.16" cy="395.21" r="3.6" stroke-width="1.34" fill="#fff"/><g transform="translate(193.3,377.4) rotate(210)">
</g><circle cx="159.67" cy="415.63" r="3.6" stroke-width="1.34" fill="#fff"/><g transform="translate(193.3,377.4) rotate(210)">
</g><circle cx="168.44" cy="423.65" r="3.6" stroke-width="1.34" fill="#fff"/><g transform="translate(193.3,377.4) rotate(210)">
</g><circle cx="191.44" cy="420.62" r="3.6" stroke-width="1.34" fill="#fff"/><g transform="translate(193.3,377.4) rotate(210)">
<ellipse cx="0" cy="0" rx="31.2" ry="52" stroke-width="1.4" fill="#fff"/>
</g><ellipse cx="185.84" cy="339.53" rx="1.5" ry="2.1" transform="rotate(30 185.84 339.53)" stroke-width="1.1" fill="#fff"/><g transform="translate(193.3,377.4) rotate(210)">
</g><ellipse cx="227.75" cy="343.01" rx="1.5" ry="2.1" transform="rotate(30 227.75 343.01)" stroke-width="1.1" fill="#fff"/><g transform="translate(193.3,377.4) rotate(210)">
</g><ellipse cx="157.85" cy="381.29" rx="1.5" ry="2.1" transform="rotate(30 157.85 381.29)" stroke-width="1.1" fill="#fff"/><g transform="translate(193.3,377.4) rotate(210)">
</g><ellipse cx="217.16" cy="395.21" rx="1.5" ry="2.1" transform="rotate(30 217.16 395.21)" stroke-width="1.1" fill="#fff"/><g transform="translate(193.3,377.4) rotate(210)">
</g><ellipse cx="159.67" cy="415.63" rx="1.5" ry="2.1" transform="rotate(30 159.67 415.63)" stroke-width="1.1" fill="#fff"/><g transform="translate(193.3,377.4) rotate(210)">
</g><ellipse cx="168.44" cy="423.65" rx="1.5" ry="2.1" transform="rotate(30 168.44 423.65)" stroke-width="1.1" fill="#fff"/><g transform="translate(193.3,377.4) rotate(210)">
</g><ellipse cx="191.44" cy="420.62" rx="1.5" ry="2.1" transform="rotate(30 191.44 420.62)" stroke-width="1.1" fill="#fff"/><g transform="translate(193.3,377.4) rotate(210)">
<ellipse cx="0" cy="0" rx="25.85" ry="47" stroke-width="1.4" fill="#fff"/>
<clipPath id="cv"><ellipse cx="0" cy="0" rx="25.63" ry="46.6"/></clipPath>
<g clip-path="url(#cv)">
<path d="M-13.87,29.44L-14.76,27.63L-15.59,25.74L-16.36,23.77L-17.07,21.73L-17.72,19.63L-18.3,17.47L-18.81,15.27L-19.25,13.01L-19.62,10.72L-19.92,8.4L-20.15,6.05L-20.3,3.68L-20.38,1.31L-20.38,-1.08L-20.31,-3.45L-20.16,-5.82L-19.95,-8.17L-19.66,-10.5L-19.29,-12.79L-18.86,-15.05L-18.35,-17.26L-17.78,-19.43L-17.14,-21.53L-16.44,-23.58L-15.67,-25.55L-14.84,-27.45L-13.96,-29.27L-13.01,-31L-12.02,-32.65L-10.98,-34.19L-9.89,-35.64L-8.75,-36.98L-7.58,-38.22L-6.37,-39.34L-5.12,-40.35L-3.85,-41.24L-2.55,-42.01L-1.23,-42.66L0.11,-43.18L1.47,-43.57" stroke-width="1.22" fill="none" style="stroke:#000"/>
<path d="M-6.02,24.75L-6.72,23.22L-7.37,21.64L-7.98,20L-8.54,18.31L-9.05,16.57L-9.51,14.8L-9.91,12.98L-10.27,11.13L-10.56,9.25L-10.81,7.35L-10.99,5.42L-11.12,3.49L-11.2,1.55L-11.21,-0.4L-11.17,-2.35L-11.08,-4.29L-10.92,-6.22L-10.71,-8.14L-10.45,-10.03L-10.13,-11.9L-9.75,-13.73L-9.33,-15.54L-8.85,-17.3L-8.32,-19.02L-7.74,-20.69L-7.11,-22.3L-6.43,-23.86L-5.71,-25.36L-4.95,-26.79L-4.15,-28.16L-3.31,-29.45L-2.43,-30.67L-1.52,-31.8L-0.57,-32.86L0.4,-33.83L1.4,-34.72L2.43,-35.52L3.48,-36.22L4.54,-36.84L5.63,-37.36" stroke-width="1.22" fill="none" style="stroke:#000"/>
</g>
</g>
<clipPath id="cv2"><ellipse cx="193.3" cy="377.4" rx="25.63" ry="46.6" transform="rotate(210 193.3 377.4)"/></clipPath>
<g clip-path="url(#cv2)">
<ellipse cx="178.58" cy="368.73" rx="11.5" ry="19.67" transform="rotate(30 178.58 368.73)" stroke-width="1.22" fill="none"/>
<ellipse cx="176.76" cy="367.98" rx="9.38" ry="16.34" transform="rotate(30 176.76 367.98)" stroke-width="1.22" fill="none"/>
<ellipse cx="175.1" cy="367.37" rx="7.26" ry="13.01" transform="rotate(30 175.1 367.37)" stroke-width="1.22" fill="none"/>
<path d="M179.03,351.64C180.6,351.33 186.09,349.62 188.41,349.82C190.73,350.02 191.31,351.33 192.95,352.85C194.59,354.36 197.49,357.39 198.25,358.9C199,360.41 197.61,361.42 197.49,361.92" stroke-width="1.22" fill="none"/>
<path d="M192.19,342.26C192.82,343.77 194.08,348.81 195.98,351.33C197.87,353.86 200.51,355.87 203.54,357.39C206.57,358.9 211.61,360.41 214.13,360.41C216.65,360.41 217.91,357.89 218.67,357.39" stroke-width="1.22" fill="none"/>
<path d="M198.25,340.74C198.88,342.01 200.39,346.29 202.03,348.31C203.67,350.33 205.81,351.71 208.08,352.85C210.35,353.98 213.88,355.12 215.64,355.12C217.41,355.12 218.16,353.23 218.67,352.85" stroke-width="1.22" fill="none"/>
<path d="M204.3,339.23C204.93,340.24 206.69,343.64 208.08,345.28C209.47,346.92 210.98,348.31 212.62,349.07C214.26,349.82 217.03,349.7 217.91,349.82" stroke-width="1.22" fill="none"/>
<path d="M210.35,337.72C210.85,338.48 212.19,341 213.37,342.26C214.56,343.52 216.78,344.78 217.46,345.28" stroke-width="1.22" fill="none"/>
</g>
<line x1="195" y1="380" x2="232.5" y2="400" stroke-width="1.22"/>
<g transform="translate(246.8,410) rotate(210)">
<ellipse cx="0" cy="0" rx="11.42" ry="19.8" stroke-width="1.95" fill="#fff"/>
<ellipse cx="0" cy="0" rx="6.52" ry="11.3" stroke-width="1.46" fill="#fff"/>
</g>
<g transform="translate(277,427) rotate(210)">
<path d="M0,-19.5L7,-19.5A11.25,19.5 0 0 1 7,19.5L0,19.5A11.25,19.5 0 0 1 0,-19.5Z" stroke-width="1.34" fill="#fff"/>
<ellipse cx="0" cy="0" rx="11.25" ry="19.5" stroke-width="1.34" fill="#fff"/>
<ellipse cx="0.5" cy="0" rx="9.45" ry="16.38" stroke-width="1.1" fill="#fff"/>
<ellipse cx="0.8" cy="0" rx="8.33" ry="14.43" stroke-width="1.83" fill="#fff"/>
<ellipse cx="1.4" cy="0" rx="6.3" ry="10.92" stroke-width="1.22" fill="#fff"/>
<path d="M6.53,-10.55L6.93,-10.34L7.31,-10.09L7.69,-9.79L8.05,-9.46L8.4,-9.08L8.74,-8.66L9.05,-8.21L9.36,-7.72L9.64,-7.2L9.9,-6.65L10.14,-6.07L10.36,-5.46L10.55,-4.83L10.72,-4.18L10.87,-3.51L10.99,-2.83L11.08,-2.13L11.15,-1.43L11.19,-0.71L11.2,0L11.19,0.71L11.15,1.43L11.08,2.13L10.99,2.83L10.87,3.51L10.72,4.18L10.55,4.83L10.36,5.46L10.14,6.07L9.9,6.65L9.64,7.2L9.36,7.72L9.05,8.21L8.74,8.66L8.4,9.08L8.05,9.46L7.69,9.79L7.31,10.09L6.93,10.34L6.53,10.55" stroke-width="1.1" fill="none" style="stroke:#000"/>
</g>
<g transform="translate(320.2,454) rotate(210)">
<path d="M2.89,-43.87L3.3,-49.38L5.46,-49.59L6.23,-44.2L7.96,-44.07L8.99,-49.33L11.13,-48.8L11.27,-43.25L12.94,-42.53L14.56,-47.33L16.59,-46.08L16.1,-40.59L17.66,-39.31L19.79,-43.47L21.64,-41.54L20.53,-36.33L21.91,-34.54L24.47,-37.89L26.07,-35.36L24.38,-30.64L25.54,-28.41L28.43,-30.81L29.71,-27.79L27.52,-23.73L28.39,-21.16L31.5,-22.52L32.41,-19.12L29.8,-15.89L30.36,-13.07L33.56,-13.34L34.07,-9.7L31.14,-7.43L31.37,-4.47L34.54,-3.64L34.62,0.11L31.49,1.33L31.38,4.31L34.39,6.21L34.04,9.91L30.84,10.04L30.39,12.92L33.13,15.82L32.36,19.32L29.2,18.35L28.43,21.02L30.79,24.8L29.63,27.97L26.65,25.93L25.59,28.29L27.47,32.8L25.98,35.52L23.29,32.5L21.98,34.45L23.3,39.51L21.53,41.66L19.24,37.78L17.74,39.24L18.46,44.65L16.48,46.16L14.67,41.57Z" stroke-width="1.34" fill="#fff"/>
<path d="M0,-44.4L5,-44.4A25.62,44.4 0 0 1 5,44.4L0,44.4A25.62,44.4 0 0 1 0,-44.4Z" stroke-width="1.34" fill="#fff"/>
<ellipse cx="0" cy="0" rx="25.62" ry="44.4" stroke-width="1.34" fill="#fff"/>
<path d="M-21.49,-19.5L-20.04,-23.31L-18.35,-26.8L-16.43,-29.92L-14.32,-32.63L-12.04,-34.9L-9.62,-36.69L-7.1,-37.99L-4.51,-38.76L-1.88,-39L0.74,-38.71L3.33,-37.89L5.84,-36.55L8.25,-34.72L10.52,-32.41L12.61,-29.66L14.51,-26.5L16.18,-22.98L17.6,-19.15L18.76,-15.05L19.63,-10.75L20.21,-6.3L20.48,-1.77L20.45,2.79L20.1,7.31L19.46,11.73L18.53,15.99L17.31,20.03L15.83,23.8L14.11,27.24L12.16,30.31L10.02,32.97L7.72,35.17L5.29,36.9L2.76,38.12L0.16,38.82L-2.47,38.99L-5.09,38.63L-7.67,37.74L-10.17,36.34L-12.56,34.43" stroke-width="1.22" fill="none" style="stroke:#000"/>
<path d="M-16.64,9.23L-17.21,5.84L-17.52,2.35L-17.56,-1.18L-17.34,-4.69L-16.86,-8.12L-16.12,-11.41L-15.14,-14.51L-13.93,-17.36L-12.53,-19.91L-10.94,-22.12L-9.19,-23.95L-7.33,-25.37L-5.37,-26.36L-3.36,-26.9L-1.32,-26.97L0.71,-26.59L2.68,-25.75L4.58,-24.47L6.37,-22.77L8.01,-20.68L9.49,-18.24L10.76,-15.49L11.82,-12.47L12.64,-9.23L13.21,-5.84L13.52,-2.35L13.56,1.18L13.34,4.69L12.86,8.12L12.12,11.41L11.14,14.51L9.93,17.36L8.53,19.91L6.94,22.12L5.19,23.95L3.33,25.37L1.37,26.36L-0.64,26.9L-2.68,26.97L-4.71,26.59" stroke-width="1.22" fill="none" style="stroke:#000"/>
<g transform="translate(-7.28,32.15)">
<path d="M-1.5,-5.2L0,-5.2A3,5.2 0 0 1 0,5.2L-1.5,5.2A3,5.2 0 0 1 -1.5,-5.2Z" stroke-width="1.22" fill="#fff"/>
<ellipse cx="-1.5" cy="0" rx="3" ry="5.2" stroke-width="1.22" fill="#fff"/>
<path d="M-5,-4L-1.5,-4A2.31,4 0 0 1 -1.5,4L-5,4A2.31,4 0 0 1 -5,-4Z" stroke-width="1.22" fill="#fff"/>
<ellipse cx="-5" cy="0" rx="2.31" ry="4" stroke-width="1.22" fill="#fff"/>
<ellipse cx="-5" cy="0" rx="1.38" ry="2.4" stroke-width="0.98" fill="#fff"/>
</g>
<g transform="translate(10.46,23.33)">
<path d="M-1.5,-5.2L0,-5.2A3,5.2 0 0 1 0,5.2L-1.5,5.2A3,5.2 0 0 1 -1.5,-5.2Z" stroke-width="1.22" fill="#fff"/>
<ellipse cx="-1.5" cy="0" rx="3" ry="5.2" stroke-width="1.22" fill="#fff"/>
<path d="M-5,-4L-1.5,-4A2.31,4 0 0 1 -1.5,4L-5,4A2.31,4 0 0 1 -5,-4Z" stroke-width="1.22" fill="#fff"/>
<ellipse cx="-5" cy="0" rx="2.31" ry="4" stroke-width="1.22" fill="#fff"/>
<ellipse cx="-5" cy="0" rx="1.38" ry="2.4" stroke-width="0.98" fill="#fff"/>
</g>
<g transform="translate(15.39,-8.54)">
<path d="M-1.5,-5.2L0,-5.2A3,5.2 0 0 1 0,5.2L-1.5,5.2A3,5.2 0 0 1 -1.5,-5.2Z" stroke-width="1.22" fill="#fff"/>
<ellipse cx="-1.5" cy="0" rx="3" ry="5.2" stroke-width="1.22" fill="#fff"/>
<path d="M-5,-4L-1.5,-4A2.31,4 0 0 1 -1.5,4L-5,4A2.31,4 0 0 1 -5,-4Z" stroke-width="1.22" fill="#fff"/>
<ellipse cx="-5" cy="0" rx="2.31" ry="4" stroke-width="1.22" fill="#fff"/>
<ellipse cx="-5" cy="0" rx="1.38" ry="2.4" stroke-width="0.98" fill="#fff"/>
</g>
<g transform="translate(3.51,-31.01)">
<path d="M-1.5,-5.2L0,-5.2A3,5.2 0 0 1 0,5.2L-1.5,5.2A3,5.2 0 0 1 -1.5,-5.2Z" stroke-width="1.22" fill="#fff"/>
<ellipse cx="-1.5" cy="0" rx="3" ry="5.2" stroke-width="1.22" fill="#fff"/>
<path d="M-5,-4L-1.5,-4A2.31,4 0 0 1 -1.5,4L-5,4A2.31,4 0 0 1 -5,-4Z" stroke-width="1.22" fill="#fff"/>
<ellipse cx="-5" cy="0" rx="2.31" ry="4" stroke-width="1.22" fill="#fff"/>
<ellipse cx="-5" cy="0" rx="1.38" ry="2.4" stroke-width="0.98" fill="#fff"/>
</g>
<g transform="translate(-16.46,-23.33)">
<path d="M-1.5,-5.2L0,-5.2A3,5.2 0 0 1 0,5.2L-1.5,5.2A3,5.2 0 0 1 -1.5,-5.2Z" stroke-width="1.22" fill="#fff"/>
<ellipse cx="-1.5" cy="0" rx="3" ry="5.2" stroke-width="1.22" fill="#fff"/>
<path d="M-5,-4L-1.5,-4A2.31,4 0 0 1 -1.5,4L-5,4A2.31,4 0 0 1 -5,-4Z" stroke-width="1.22" fill="#fff"/>
<ellipse cx="-5" cy="0" rx="2.31" ry="4" stroke-width="1.22" fill="#fff"/>
<ellipse cx="-5" cy="0" rx="1.38" ry="2.4" stroke-width="0.98" fill="#fff"/>
</g>
<path d="M-6,-20.5L0,-23A13.27,23 0 0 1 0,23L-6,20.5A11.83,20.5 0 0 1 -6,-20.5Z" stroke-width="1.34" fill="#fff"/>
<ellipse cx="-6" cy="0" rx="11.83" ry="20.5" stroke-width="1.34" fill="#fff"/>
<path d="M-17,-19.5L-6,-19.5A11.25,19.5 0 0 1 -6,19.5L-17,19.5A11.25,19.5 0 0 1 -17,-19.5Z" stroke-width="1.34" fill="#fff"/>
<ellipse cx="-17" cy="0" rx="11.25" ry="19.5" stroke-width="1.34" fill="#fff"/>
<path d="M-31,-16.5L-17,-16.5A9.52,16.5 0 0 1 -17,16.5L-31,16.5A9.52,16.5 0 0 1 -31,-16.5Z" stroke-width="1.34" fill="#fff"/>
<ellipse cx="-31" cy="0" rx="9.52" ry="16.5" stroke-width="1.34" fill="#fff"/>
<ellipse cx="-31" cy="0" rx="7.79" ry="13.5" stroke-width="1.22" fill="#fff"/>
<ellipse cx="-31" cy="0" rx="6.35" ry="11" stroke-width="1.22" fill="#fff"/>
<path d="M-24.65,0L-23.21,0M-24.87,2.85L-23.48,3.49M-25.5,5.5L-24.25,6.75M-26.51,7.78L-25.49,9.55M-27.83,9.53L-27.11,11.69M-29.36,10.63L-28.98,13.04M-31,11L-31,13.5M-32.64,10.63L-33.02,13.04M-34.17,9.53L-34.89,11.69M-35.49,7.78L-36.51,9.55M-36.5,5.5L-37.75,6.75M-37.13,2.85L-38.52,3.49M-37.35,0L-38.79,0M-37.13,-2.85L-38.52,-3.49M-36.5,-5.5L-37.75,-6.75M-35.49,-7.78L-36.51,-9.55M-34.17,-9.53L-34.89,-11.69M-32.64,-10.63L-33.02,-13.04M-31,-11L-31,-13.5M-29.36,-10.63L-28.98,-13.04M-27.83,-9.53L-27.11,-11.69M-26.51,-7.78L-25.49,-9.55M-25.5,-5.5L-24.25,-6.75M-24.87,-2.85L-23.48,-3.49" stroke-width="0.98" fill="none"/>
<path d="M-36,-5.2L-31,-5.2A3,5.2 0 0 1 -31,5.2L-36,5.2A3,5.2 0 0 1 -36,-5.2Z" stroke-width="1.34" fill="#fff"/>
<ellipse cx="-36" cy="0" rx="3" ry="5.2" stroke-width="1.34" fill="#fff"/>
<ellipse cx="-36" cy="0" rx="1.96" ry="3.4" stroke-width="1.1" fill="#fff"/>
</g>
<g transform="translate(381.2,486.1) rotate(210)">
<path d="M0,-27L8,-27A15.58,27 0 0 1 8,27L0,27A15.58,27 0 0 1 0,-27Z" stroke-width="1.34" fill="#fff"/>
<ellipse cx="0" cy="0" rx="15.58" ry="27" stroke-width="1.34" fill="#fff"/>
<ellipse cx="0.5" cy="0" rx="12.98" ry="22.5" stroke-width="2.2" fill="#fff"/>
<ellipse cx="1" cy="0" rx="11.25" ry="19.5" stroke-width="1.22" fill="#fff"/>
<path d="M7.95,-19.2L8.72,-18.92L9.48,-18.55L10.21,-18.08L10.93,-17.53L11.63,-16.89L12.29,-16.17L12.93,-15.37L13.53,-14.49L14.09,-13.55L14.62,-12.53L15.1,-11.46L15.54,-10.33L15.93,-9.15L16.28,-7.93L16.57,-6.67L16.82,-5.37L17.01,-4.05L17.14,-2.71L17.22,-1.36L17.25,0L17.22,1.36L17.14,2.71L17.01,4.05L16.82,5.37L16.57,6.67L16.28,7.93L15.93,9.15L15.54,10.33L15.1,11.46L14.62,12.53L14.09,13.55L13.53,14.49L12.93,15.37L12.29,16.17L11.63,16.89L10.93,17.53L10.21,18.08L9.48,18.55L8.72,18.92L7.95,19.2" stroke-width="1.1" fill="none" style="stroke:#000"/>
</g>
<g transform="translate(412.9,504.3) rotate(210)">
<ellipse cx="0" cy="0" rx="15.35" ry="26.6" stroke-width="1.71" fill="#fff"/>
<ellipse cx="0" cy="0" rx="8.65" ry="15" stroke-width="1.59" fill="#fff"/>
</g>
<line x1="413.6" y1="506.8" x2="444.3" y2="523.6" stroke-width="1.34"/>
<g transform="translate(118.8,519.2) rotate(210)">
<path d="M7,-15.8L17,-15.8A9.12,15.8 0 0 1 17,15.8L7,15.8A9.12,15.8 0 0 1 7,-15.8Z" stroke-width="1.34" fill="#fff"/>
<ellipse cx="7" cy="0" rx="9.12" ry="15.8" stroke-width="1.34" fill="#fff"/>
<path d="M0,-16.9L7,-16.9A9.75,16.9 0 0 1 7,16.9L0,16.9A9.75,16.9 0 0 1 0,-16.9Z" stroke-width="1.34" fill="#fff"/>
<ellipse cx="0" cy="0" rx="9.75" ry="16.9" stroke-width="1.34" fill="#fff"/>
<path d="M2,-16.9L2.77,-16.85L3.53,-16.69L4.28,-16.43L5.01,-16.07L5.73,-15.61L6.43,-15.06L7.1,-14.41L7.73,-13.67L8.33,-12.85L8.9,-11.95L9.41,-10.98L9.89,-9.93L10.31,-8.83L10.69,-7.67L11.01,-6.47L11.27,-5.22L11.48,-3.95L11.63,-2.64L11.72,-1.33L11.75,0L11.72,1.33L11.63,2.64L11.48,3.95L11.27,5.22L11.01,6.47L10.69,7.67L10.31,8.83L9.89,9.93L9.41,10.98L8.9,11.95L8.33,12.85L7.73,13.67L7.1,14.41L6.43,15.06L5.73,15.61L5.01,16.07L4.28,16.43L3.53,16.69L2.77,16.85L2,16.9" stroke-width="1.1" fill="none" style="stroke:#000"/>
<path d="M4,-16.9L4.77,-16.85L5.53,-16.69L6.28,-16.43L7.01,-16.07L7.73,-15.61L8.43,-15.06L9.1,-14.41L9.73,-13.67L10.33,-12.85L10.9,-11.95L11.41,-10.98L11.89,-9.93L12.31,-8.83L12.69,-7.67L13.01,-6.47L13.27,-5.22L13.48,-3.95L13.63,-2.64L13.72,-1.33L13.75,0L13.72,1.33L13.63,2.64L13.48,3.95L13.27,5.22L13.01,6.47L12.69,7.67L12.31,8.83L11.89,9.93L11.41,10.98L10.9,11.95L10.33,12.85L9.73,13.67L9.1,14.41L8.43,15.06L7.73,15.61L7.01,16.07L6.28,16.43L5.53,16.69L4.77,16.85L4,16.9" stroke-width="1.1" fill="none" style="stroke:#000"/>
<path d="M5.6,-16.9L6.37,-16.85L7.13,-16.69L7.88,-16.43L8.61,-16.07L9.33,-15.61L10.03,-15.06L10.7,-14.41L11.33,-13.67L11.93,-12.85L12.5,-11.95L13.01,-10.98L13.49,-9.93L13.91,-8.83L14.29,-7.67L14.61,-6.47L14.87,-5.22L15.08,-3.95L15.23,-2.64L15.32,-1.33L15.35,0L15.32,1.33L15.23,2.64L15.08,3.95L14.87,5.22L14.61,6.47L14.29,7.67L13.91,8.83L13.49,9.93L13.01,10.98L12.5,11.95L11.93,12.85L11.33,13.67L10.7,14.41L10.03,15.06L9.33,15.61L8.61,16.07L7.88,16.43L7.13,16.69L6.37,16.85L5.6,16.9" stroke-width="1.1" fill="none" style="stroke:#000"/>
<ellipse cx="0.4" cy="0" rx="8.25" ry="14.3" stroke-width="1.22" fill="#fff"/>
<ellipse cx="0.8" cy="0" rx="6.64" ry="11.5" stroke-width="1.22" fill="#fff"/>
<path d="M7.24,0L8.85,0M7.07,2.56L8.64,3.18M6.58,4.99L8.03,6.2M5.79,7.17L7.05,8.92M4.74,8.99L5.74,11.18M3.48,10.36L4.18,12.88M2.08,11.21L2.44,13.94M0.6,11.5L0.6,14.3M-0.88,11.21L-1.24,13.94M-2.28,10.36L-2.98,12.88M-3.54,8.99L-4.54,11.18M-4.59,7.17L-5.85,8.92M-5.38,4.99L-6.83,6.2M-5.87,2.56L-7.44,3.18M-6.04,0L-7.65,0M-5.87,-2.56L-7.44,-3.18M-5.38,-4.99L-6.83,-6.2M-4.59,-7.17L-5.85,-8.92M-3.54,-8.99L-4.54,-11.18M-2.28,-10.36L-2.98,-12.88M-0.88,-11.21L-1.24,-13.94M0.6,-11.5L0.6,-14.3M2.08,-11.21L2.44,-13.94M3.48,-10.36L4.18,-12.88M4.74,-8.99L5.74,-11.18M5.79,-7.17L7.05,-8.92M6.58,-4.99L8.03,-6.2M7.07,-2.56L8.64,-3.18" stroke-width="0.85" fill="none"/>
</g>
<g transform="translate(154.8,539.3) rotate(210)">
<path d="M4,-12L20,-12A6.92,12 0 0 1 20,12L4,12A6.92,12 0 0 1 4,-12Z" stroke-width="1.34" fill="#fff"/>
<ellipse cx="4" cy="0" rx="6.92" ry="12" stroke-width="1.34" fill="#fff"/>
<path d="M5.2,-11.82L21.2,-11.82M7.23,-10.62L23.23,-10.62M8.94,-8.4L24.94,-8.4M10.19,-5.39L26.19,-5.39M10.84,-1.85L26.84,-1.85M10.84,1.85L26.84,1.85M10.19,5.39L26.19,5.39M8.94,8.4L24.94,8.4M7.23,10.62L23.23,10.62M5.2,11.82L21.2,11.82" stroke-width="0.98" fill="none"/>
<path d="M0,-13.6L4,-13.6A7.85,13.6 0 0 1 4,13.6L0,13.6A7.85,13.6 0 0 1 0,-13.6Z" stroke-width="1.34" fill="#fff"/>
<ellipse cx="0" cy="0" rx="7.85" ry="13.6" stroke-width="1.34" fill="#fff"/>
<ellipse cx="0.4" cy="0" rx="6.69" ry="11.6" stroke-width="1.1" fill="#fff"/>
<ellipse cx="0.8" cy="0" rx="5.31" ry="9.2" stroke-width="1.22" fill="#fff"/>
<ellipse cx="1.2" cy="0" rx="3.92" ry="6.8" stroke-width="1.22" fill="#fff"/>
</g>
<g transform="translate(175.3,551.5) rotate(210)">
<path d="M2.26,18.39L0.81,18.75L-0.64,18.77L-2.09,18.45L-3.5,17.8L-4.84,16.82L-6.1,15.55L-7.24,13.99L-8.26,12.18L-9.13,10.16L-9.83,7.95L-10.36,5.59L-10.7,3.14L-10.84,0.62L-10.79,-1.9L-10.55,-4.39L-10.11,-6.8L-9.5,-9.09L-8.71,-11.21L-7.76,-13.13L-6.68,-14.81L-5.47,-16.23L-4.17,-17.36L-2.79,-18.17L-1.36,-18.65L0.09,-18.8L1.55,-18.61L2.97,-18.08L4.34,-17.23L5.64,-16.06L6.83,-14.61L7.89,-12.89L8.82,-10.94L9.59,-8.8L10.18,-6.49L10.59,-4.07L10.81,-1.57L10.83,0.95L10.66,3.46L10.3,5.9L9.75,8.24" stroke-width="3.05" fill="none" style="stroke:#000"/>
<path d="M2.26,18.39L0.81,18.75L-0.64,18.77L-2.09,18.45L-3.5,17.8L-4.84,16.82L-6.1,15.55L-7.24,13.99L-8.26,12.18L-9.13,10.16L-9.83,7.95L-10.36,5.59L-10.7,3.14L-10.84,0.62L-10.79,-1.9L-10.55,-4.39L-10.11,-6.8L-9.5,-9.09L-8.71,-11.21L-7.76,-13.13L-6.68,-14.81L-5.47,-16.23L-4.17,-17.36L-2.79,-18.17L-1.36,-18.65L0.09,-18.8L1.55,-18.61L2.97,-18.08L4.34,-17.23L5.64,-16.06L6.83,-14.61L7.89,-12.89L8.82,-10.94L9.59,-8.8L10.18,-6.49L10.59,-4.07L10.81,-1.57L10.83,0.95L10.66,3.46L10.3,5.9L9.75,8.24" stroke-width="0.92" fill="none" style="stroke:#fff"/>
<circle cx="2.74" cy="16.53" r="1.6" stroke-width="1.34" fill="#fff"/>
<circle cx="7.46" cy="8.72" r="1.6" stroke-width="1.34" fill="#fff"/>
</g>
<g transform="translate(203.4,567) rotate(210)">
<path d="M0,-20.3L6,-20.3A11.71,20.3 0 0 1 6,20.3L0,20.3A11.71,20.3 0 0 1 0,-20.3Z" stroke-width="1.34" fill="#fff"/>
<ellipse cx="0" cy="0" rx="11.71" ry="20.3" stroke-width="1.34" fill="#fff"/>
<ellipse cx="0.5" cy="0" rx="9.84" ry="17.05" stroke-width="1.1" fill="#fff"/>
<ellipse cx="0.8" cy="0" rx="8.67" ry="15.02" stroke-width="1.83" fill="#fff"/>
<ellipse cx="1.4" cy="0" rx="6.56" ry="11.37" stroke-width="1.22" fill="#fff"/>
<path d="M5.9,-10.98L6.31,-10.76L6.71,-10.5L7.1,-10.2L7.48,-9.84L7.84,-9.45L8.19,-9.02L8.52,-8.55L8.84,-8.04L9.13,-7.5L9.4,-6.92L9.65,-6.32L9.88,-5.68L10.08,-5.03L10.26,-4.35L10.41,-3.65L10.54,-2.94L10.63,-2.22L10.7,-1.48L10.75,-0.74L10.76,0L10.75,0.74L10.7,1.48L10.63,2.22L10.54,2.94L10.41,3.65L10.26,4.35L10.08,5.03L9.88,5.68L9.65,6.32L9.4,6.92L9.13,7.5L8.84,8.04L8.52,8.55L8.19,9.02L7.84,9.45L7.48,9.84L7.1,10.2L6.71,10.5L6.31,10.76L5.9,10.98" stroke-width="1.1" fill="none" style="stroke:#000"/>
</g>
<g transform="translate(241.2,589.4) rotate(210)">
<ellipse cx="0" cy="0" rx="26.1" ry="46.6" stroke-width="1.65" fill="none"/>
</g>
<g transform="translate(443.8,581.9) rotate(-30)">
<ellipse cx="0" cy="0" rx="16.49" ry="26.6" stroke-width="1.65" fill="none"/>
</g>
<path d="M351.01,604.21C351.9,602.69 350.38,602.62 352.53,601.18C354.67,599.74 361.28,596.29 363.87,595.58C366.47,594.88 366.72,595.76 368.11,596.94C369.5,598.13 370.5,600.1 372.19,602.69C373.88,605.29 376.35,610.26 378.25,612.53C380.14,614.8 381.6,615.22 383.54,616.31C385.48,617.39 388.38,617.9 389.89,619.03C391.41,620.17 392.21,621.6 392.62,623.12C393.02,624.63 392.77,626.85 392.31,628.11C391.86,629.37 390.22,628.74 389.89,630.68C389.57,632.62 390.35,637.36 390.35,639.76C390.35,642.15 390.52,643.54 389.89,645.05C389.26,646.57 388,647.45 386.57,648.84C385.13,650.22 382.78,653 381.27,653.37C379.76,653.75 378.88,651.61 377.49,651.1C376.1,650.6 374.97,650.22 372.95,650.35C370.93,650.47 368.16,652.49 365.39,651.86C362.61,651.23 359.59,650.22 356.31,646.57C353.03,642.91 347.61,634.72 345.72,629.92C343.83,625.13 344.71,621.1 344.96,617.82C345.21,614.54 346.22,612.53 347.23,610.26C348.24,607.99 350.13,605.72 351.01,604.21Z" stroke-width="1.34" fill="#fff"/>
<path d="M351.01,604.21C351.77,604.33 353.41,605.47 355.55,604.96C357.7,604.46 361.78,602.52 363.87,601.18C365.97,599.84 367.4,597.65 368.11,596.94" stroke-width="1.22" fill="none"/>
<path d="M355.55,604.96C357.19,605.84 362.49,607.11 365.39,610.26C368.29,613.41 371.19,619.33 372.95,623.87C374.72,628.41 375.6,633.45 375.98,637.49C376.35,641.52 375.35,646.31 375.22,648.08" stroke-width="1.22" fill="none"/>
<path d="M347.23,610.26C349,610.64 354.67,610.26 357.82,612.53C360.97,614.8 364.18,619.71 366.14,623.87C368.11,628.03 369.24,633.08 369.62,637.49C370,641.9 368.61,648.2 368.41,650.35" stroke-width="1.22" fill="none"/>
<path d="M369.92,604.21C371.44,606.22 376.48,612.02 379,616.31C381.52,620.6 383.79,625.89 385.05,629.92C386.31,633.96 386.57,637.74 386.57,640.51C386.57,643.29 385.31,645.56 385.05,646.57" stroke-width="1.22" fill="none"/>
<path d="M383.54,616.31C383.04,617.07 380.01,619.33 380.51,620.85C381.02,622.36 384.6,624.63 386.57,625.39C388.53,626.14 391.36,625.39 392.31,625.39" stroke-width="1.1" fill="none"/>
<path d="M375.22,648.08C375.6,647.45 376.1,645.18 377.49,644.3C378.88,643.41 381.65,642.91 383.54,642.78C385.43,642.66 387.95,643.41 388.84,643.54" stroke-width="1.22" fill="none"/>
<path d="M363.12,632.95C363.75,633.2 365.89,634.34 366.9,634.46C367.91,634.59 368.87,633.33 369.17,633.71C369.47,634.08 368.79,636.23 368.71,636.73" stroke-width="1.1" fill="none"/>
<ellipse cx="382.78" cy="649.89" rx="1.36" ry="0.91" transform="rotate(30 382.78 649.89)" stroke-width="1.22" fill="#fff"/>
<path d="M261.81,657.75C261.15,655.07 259.03,650.18 258.78,645.64C258.53,641.1 258.91,636.57 260.3,630.51C261.68,624.46 264.2,615.89 267.1,609.33C270,602.78 274.29,596.1 277.69,591.18C281.1,586.26 285.26,582.15 287.53,579.83C289.8,577.51 289.92,577.44 291.31,577.26C292.7,577.09 293.58,578.93 295.85,578.77C298.12,578.62 301.65,576.86 304.92,576.35C308.2,575.85 311.98,575.67 315.51,575.75C319.04,575.82 323.71,576.81 326.1,576.81C328.5,576.81 328.37,575.5 329.89,575.75C331.4,576 334.05,577.14 335.18,578.32C336.32,579.51 335.43,579.2 336.69,582.86C337.96,586.52 341.23,595.84 342.75,600.26C344.26,604.67 345.02,606.81 345.77,609.33C346.53,611.86 346.76,613.62 347.28,615.39C347.81,617.15 347.01,617.04 348.95,619.91C350.89,622.79 356.81,628.08 358.93,632.62C361.05,637.16 361.96,642.3 361.66,647.15C361.35,651.99 359.39,657.74 357.12,661.67C354.85,665.6 351.37,669.08 348.04,670.75C344.71,672.41 340.17,671.96 337.15,671.66C334.12,671.35 332.3,670.05 329.88,668.93C327.46,667.81 325.95,665.48 322.62,664.94C319.29,664.39 312.94,665 309.91,665.66C306.89,666.33 305.98,668.09 304.47,668.93C302.95,669.78 303.1,670.69 300.84,670.75C298.57,670.81 292.82,668.39 290.85,669.3C288.88,670.2 290.09,674.59 289.03,676.19C287.98,677.8 286.46,678.92 284.5,678.92C282.53,678.92 279.96,677.86 277.23,676.19C274.51,674.53 269.82,671.2 268.16,668.93C266.49,666.66 268.16,663.79 267.25,662.58C266.34,661.37 263.62,662.48 262.71,661.67C261.8,660.86 262.46,660.42 261.81,657.75Z" stroke-width="1.4" fill="#fff"/>
<path d="M290.1,583.92C288.41,585.63 283.29,589.47 279.96,594.21C276.63,598.95 272.73,606.31 270.13,612.36C267.53,618.41 265.59,624.97 264.38,630.51C263.17,636.06 262.77,641.23 262.87,645.64C262.97,650.06 264.63,655.1 264.98,656.99" stroke-width="1.22" fill="none"/>
<path d="M298.12,581.35C299.5,580.97 303.54,579.56 306.44,579.08C309.34,578.6 312.36,578.42 315.51,578.47C318.67,578.52 323.71,579.23 325.35,579.38" stroke-width="1.22" fill="none"/>
<path d="M287.53,579.83C287.7,580.72 287.83,583.36 288.59,585.13C289.34,586.89 290.73,589.67 292.07,590.42C293.4,591.18 295.47,590.55 296.6,589.67C297.74,588.78 299,586.94 298.87,585.13C298.75,583.31 296.35,579.83 295.85,578.77" stroke-width="1.22" fill="none"/>
<ellipse cx="294.03" cy="585.13" rx="1.36" ry="1.97" transform="rotate(30 294.03 585.13)" stroke-width="1.22" fill="#fff"/>
<path d="M326.1,576.81C326.23,577.82 326.23,581.22 326.86,582.86C327.49,584.5 328.63,586.01 329.89,586.64C331.15,587.27 333.29,587.27 334.43,586.64C335.56,586.01 336.32,583.49 336.69,582.86" stroke-width="1.22" fill="none"/>
<ellipse cx="332.46" cy="582.1" rx="1.36" ry="1.82" transform="rotate(30 332.46 582.1)" stroke-width="1.22" fill="#fff"/>
<path d="M262.56,626.28C263.07,625.6 264.2,622.75 265.59,622.19C266.98,621.64 269.62,622.07 270.89,622.95C272.15,623.83 273.03,625.98 273.15,627.49C273.28,629 272.52,631.02 271.64,632.03C270.76,633.04 268.49,633.29 267.86,633.54" stroke-width="1.22" fill="none"/>
<ellipse cx="268.31" cy="627.19" rx="1.36" ry="1.97" transform="rotate(30 268.31 627.19)" stroke-width="1.22" fill="#fff"/>
<path d="M291.31,590.42C290.3,592.06 287.15,596.35 285.26,600.26C283.37,604.17 281.32,608.83 279.96,613.87C278.6,618.92 277.52,624.72 277.09,630.51C276.66,636.31 277.04,644.13 277.39,648.67C277.74,653.21 278.9,656.23 279.21,657.75" stroke-width="1.22" fill="none"/>
<line x1="274.67" y1="613.57" x2="300.39" y2="622.19" stroke-width="1.22"/>
<line x1="276.18" y1="617.2" x2="300.39" y2="625.67" stroke-width="1.22"/>
<line x1="266.35" y1="634.75" x2="294.33" y2="641.41" stroke-width="1.22"/>
<line x1="267.86" y1="638.08" x2="294.33" y2="644.43" stroke-width="1.22"/>
<line x1="274.67" y1="648.67" x2="294.33" y2="652.45" stroke-width="1.22"/>
<line x1="270.13" y1="654.72" x2="294.33" y2="659.26" stroke-width="1.22"/>
<line x1="277.69" y1="660.77" x2="292.82" y2="667.58" stroke-width="1.22"/>
<path d="M292.07,590.42C292.7,591.81 293.7,596.35 295.85,598.74C297.99,601.14 302.66,603.28 304.92,604.8C307.19,606.31 308.71,607.32 309.46,607.82" stroke-width="1.22" fill="none"/>
<path d="M300.39,594.96C301.39,595.21 304.17,595.21 306.44,596.48C308.71,597.74 312.24,600.64 314,602.53C315.77,604.42 316.52,606.94 317.03,607.82" stroke-width="1.22" fill="none"/>
<path d="M300.39,607.82C298.17,609.79 296.2,616.39 294.64,621.44C293.07,626.48 291.81,632.53 291.01,638.08C290.2,643.63 289.69,650.31 289.8,654.72C289.9,659.13 289.09,662.28 291.61,664.55C294.13,666.82 300.18,668.71 304.92,668.34C309.66,667.96 315.26,664.55 320.05,662.28C324.84,660.02 330.14,659.51 333.67,654.72C337.2,649.93 341.23,638.96 341.23,633.54C341.23,628.12 337.2,625.22 333.67,622.19C330.14,619.17 324.34,617.48 320.05,615.39C315.77,613.29 311.23,610.9 307.95,609.64C304.67,608.38 302.6,605.85 300.39,607.82Z" stroke-width="1.34" fill="#fff"/>
<line x1="298.12" y1="622.19" x2="323.08" y2="631.27" stroke-width="1.22"/>
<line x1="297.36" y1="628.25" x2="322.32" y2="635.81" stroke-width="1.22"/>
<line x1="293.58" y1="642.62" x2="315.51" y2="647.16" stroke-width="1.22"/>
<line x1="315.51" y1="647.16" x2="317.78" y2="650.48" stroke-width="1.22"/>
<line x1="292.52" y1="652.45" x2="317.78" y2="652.45" stroke-width="1.22"/>
<line x1="291.61" y1="656.99" x2="317.78" y2="656.99" stroke-width="1.22"/>
<line x1="300.39" y1="648.67" x2="317.03" y2="652.9" stroke-width="1.22"/>
<line x1="300.39" y1="636.57" x2="304.92" y2="638.08" stroke-width="1.22"/>
<polygon points="300.39,584.37 304.92,582.86 334.43,620.68 330.64,622.19" stroke-width="1.34" fill="#fff"/>
<polyline points="302.81,583.92 332.46,621.44" stroke-width="0.98" fill="none"/>
<polygon points="323.84,585.13 327.62,583.62 342.75,618.41 339.72,619.92" stroke-width="1.34" fill="#fff"/>
<path d="M318.54,588.15C319.04,589.42 320.31,593.2 321.57,595.72C322.83,598.24 325.35,602.02 326.1,603.28" stroke-width="1.22" fill="none"/>
<path d="M334.43,586.64C334.93,588.41 335.81,593.7 337.45,597.23C339.09,600.76 343.12,606.06 344.26,607.82" stroke-width="1.22" fill="none"/>
<ellipse cx="307.19" cy="610.85" rx="1.82" ry="3.33" transform="rotate(30 307.19 610.85)" stroke-width="1.34" fill="#fff"/>
<polygon points="307.95,608.58 318.54,613.87 319.75,617.2 317.78,618.11 307.95,613.12" stroke-width="1.22" fill="#fff"/>
<ellipse cx="308.25" cy="610.85" rx="1.06" ry="1.97" transform="rotate(30 308.25 610.85)" stroke-width="1.22" fill="#fff"/>
<path d="M267.25,658.95C266.64,660.46 266.49,666.06 268.16,668.93C269.82,671.81 274.51,674.53 277.23,676.19C279.96,677.86 282.53,678.92 284.5,678.92C286.46,678.92 288.07,677.71 289.03,676.19C290,674.68 291.67,671.66 290.31,669.84C288.94,668.02 283.95,666.97 280.86,665.3C277.78,663.64 274.06,660.91 271.79,659.85C269.52,658.8 267.85,657.43 267.25,658.95Z" stroke-width="1.22" fill="#fff"/>
<ellipse cx="285.95" cy="673.65" rx="1.63" ry="2.18" transform="rotate(30 285.95 673.65)" stroke-width="1.22" fill="none"/>
<ellipse cx="267.61" cy="660.94" rx="1.27" ry="1.82" transform="rotate(30 267.61 660.94)" stroke-width="1.22" fill="none"/>
<path d="M290.85,669.3C291.61,668.78 293.42,666.87 295.39,666.21C297.36,665.54 301.14,664.85 302.65,665.3C304.16,665.76 304.16,668.33 304.47,668.93" stroke-width="1.22" fill="none"/>
<ellipse cx="302.29" cy="668.39" rx="1.45" ry="1.09" transform="rotate(0 302.29 668.39)" stroke-width="1.1" fill="none"/>
<path d="M295.39,667.48C297.81,667.18 305.37,666.09 309.91,665.66C314.45,665.24 320.5,665.06 322.62,664.94" stroke-width="1.22" fill="none"/>
<g transform="translate(345.4,648.4) rotate(210)">
<path d="M0,-23.6L4.5,-23.6A12.98,23.6 0 0 1 4.5,23.6L0,23.6A12.98,23.6 0 0 1 0,-23.6Z" stroke-width="1.34" fill="#fff"/>
<ellipse cx="0" cy="0" rx="12.98" ry="23.6" stroke-width="1.34" fill="#fff"/>
<path d="M9.52,-23.04L9.8,-22.73L10.08,-22.41L10.36,-22.08L10.63,-21.74L10.9,-21.38L11.17,-21.02L11.43,-20.64L11.68,-20.26L11.93,-19.86L12.18,-19.45L12.42,-19.04L12.65,-18.61L12.88,-18.18L13.11,-17.73L13.32,-17.28L13.54,-16.81L13.74,-16.34L13.95,-15.86L14.14,-15.37L14.33,-14.87L14.51,-14.37L14.69,-13.86L14.86,-13.34L15.02,-12.81L15.18,-12.28L15.33,-11.74L15.47,-11.2L15.61,-10.65L15.74,-10.09L15.86,-9.53L15.97,-8.97L16.08,-8.4L16.18,-7.82L16.28,-7.24L16.36,-6.66L16.44,-6.07L16.52,-5.49L16.58,-4.89L16.64,-4.3L16.69,-3.7" stroke-width="1.34" fill="none" style="stroke:#000"/>
<path d="M7.02,-23.04L7.3,-22.73L7.58,-22.41L7.86,-22.08L8.13,-21.74L8.4,-21.38L8.67,-21.02L8.93,-20.64L9.18,-20.26L9.43,-19.86L9.68,-19.45L9.92,-19.04L10.15,-18.61L10.38,-18.18L10.61,-17.73L10.82,-17.28L11.04,-16.81L11.24,-16.34L11.45,-15.86L11.64,-15.37L11.83,-14.87L12.01,-14.37L12.19,-13.86L12.36,-13.34L12.52,-12.81L12.68,-12.28L12.83,-11.74L12.97,-11.2L13.11,-10.65L13.24,-10.09L13.36,-9.53L13.47,-8.97L13.58,-8.4L13.68,-7.82L13.78,-7.24L13.86,-6.66L13.94,-6.07L14.02,-5.49L14.08,-4.89L14.14,-4.3L14.19,-3.7" stroke-width="1.34" fill="none" style="stroke:#000"/>
<ellipse cx="0.3" cy="0" rx="10.73" ry="19.5" stroke-width="1.1" fill="#fff"/>
<ellipse cx="0.8" cy="0" rx="9.08" ry="16.5" stroke-width="1.83" fill="#fff"/>
<ellipse cx="1.6" cy="0" rx="7.15" ry="13" stroke-width="1.1" fill="#fff"/>
<path d="M5.24,-12.8L5.73,-12.61L6.21,-12.36L6.68,-12.05L7.13,-11.68L7.58,-11.26L8,-10.78L8.4,-10.24L8.78,-9.66L9.14,-9.03L9.48,-8.36L9.78,-7.64L10.06,-6.89L10.31,-6.1L10.53,-5.29L10.72,-4.45L10.87,-3.58L10.99,-2.7L11.08,-1.81L11.13,-0.91L11.15,0L11.13,0.91L11.08,1.81L10.99,2.7L10.87,3.58L10.72,4.45L10.53,5.29L10.31,6.1L10.06,6.89L9.78,7.64L9.48,8.36L9.14,9.03L8.78,9.66L8.4,10.24L8,10.78L7.58,11.26L7.13,11.68L6.68,12.05L6.21,12.36L5.73,12.61L5.24,12.8" stroke-width="1.1" fill="none" style="stroke:#000"/>
</g>
<line x1="341.2" y1="647.4" x2="371.2" y2="663.6" stroke-width="1.22"/>
<polyline points="326,621.1 213.8,685.9 221.2,689.5" stroke-width="1.22" fill="none"/>
<g transform="translate(384.5,671.8) rotate(210)">
<path d="M0,-13.2L6,-13.2A7.62,13.2 0 0 1 6,13.2L0,13.2A7.62,13.2 0 0 1 0,-13.2Z" stroke-width="1.34" fill="#fff"/>
<ellipse cx="0" cy="0" rx="7.62" ry="13.2" stroke-width="1.34" fill="#fff"/>
<ellipse cx="0.4" cy="0" rx="5.89" ry="10.2" stroke-width="2.07" fill="#fff"/>
<ellipse cx="0.8" cy="0" rx="4.79" ry="8.3" stroke-width="1.1" fill="#fff"/>
</g>
<g transform="translate(137.5,346.5) rotate(210)">
<path d="M0,-12.8L6,-12.8A7.39,12.8 0 0 1 6,12.8L0,12.8A7.39,12.8 0 0 1 0,-12.8Z" stroke-width="1.34" fill="#fff"/>
<ellipse cx="0" cy="0" rx="7.39" ry="12.8" stroke-width="1.34" fill="#fff"/>
<ellipse cx="0.4" cy="0" rx="5.77" ry="10" stroke-width="2.07" fill="#fff"/>
<ellipse cx="0.8" cy="0" rx="4.62" ry="8" stroke-width="1.1" fill="#fff"/>
</g>
<path d="M499.47,524.61C498.86,523.09 501.58,523.4 503.1,523.16C504.61,522.91 506.73,522.7 508.54,523.16C510.36,523.61 512.93,524.82 513.99,525.88C515.05,526.94 515.2,528.39 514.9,529.51C514.6,530.63 513.54,532.14 512.18,532.6C510.81,533.05 508.85,533.56 506.73,532.23C504.61,530.9 500.07,526.12 499.47,524.61Z" stroke-width="1.22" fill="#fff"/>
<ellipse cx="511.81" cy="528.06" rx="2" ry="3.09" transform="rotate(-30 511.81 528.06)" stroke-width="1.22" fill="#fff"/>
<path d="M454.99,543.13C450.81,539.04 455.2,537.07 456.26,534.96C457.32,532.84 459.28,531.42 461.34,530.42C463.4,529.42 466.48,529.93 468.6,528.97C470.72,528 471.78,525.58 474.05,524.61C476.32,523.64 479.95,522.79 482.22,523.16C484.49,523.52 486,526.03 487.67,526.79C489.33,527.54 490.24,527.63 492.2,527.69C494.17,527.75 496.74,526.09 499.47,527.15C502.19,528.21 505.82,531.08 508.54,534.05C511.27,537.01 514.14,541.31 515.81,544.94C517.47,548.57 518.23,552.81 518.53,555.84C518.83,558.86 517.62,560.37 517.62,563.1C517.62,565.82 518.83,569.3 518.53,572.18C518.23,575.05 517.47,578.23 515.81,580.34C514.14,582.46 510.81,584.49 508.54,584.88C506.27,585.28 504.31,583.76 502.19,582.71C500.07,581.65 499.31,582.4 495.84,578.53C492.36,574.66 488.12,565.37 481.31,559.47C474.5,553.57 459.16,547.21 454.99,543.13Z" stroke-width="1.34" fill="#fff"/>
<path d="M456.26,534.96C457.41,534.74 460.8,534.14 463.16,533.69C465.52,533.23 468.15,533.23 470.42,532.23C472.69,531.23 474.81,529.21 476.77,527.69C478.74,526.18 481.31,523.91 482.22,523.16" stroke-width="1.1" fill="none"/>
<path d="M482.22,523.16C482.82,524.21 485.34,527.69 485.85,529.51C486.36,531.33 484.55,532.84 485.31,534.05C486.06,535.26 488.94,535.86 490.39,536.77C491.84,537.68 493.47,538.28 494.02,539.5C494.56,540.71 492.75,542.82 493.66,544.03C494.56,545.24 497.44,545.55 499.47,546.76C501.49,547.97 504.31,549.78 505.82,551.3C507.33,552.81 508.24,554.32 508.54,555.84C508.85,557.35 507.79,559.62 507.64,560.37" stroke-width="1.34" fill="none"/>
<path d="M487.67,526.79C487.97,527.69 488.27,530.87 489.48,532.23C490.69,533.59 493.41,533.9 494.93,534.96C496.44,536.02 498.04,537.38 498.56,538.59C499.07,539.8 497.11,541.1 498.01,542.22C498.92,543.34 502.1,544 504.01,545.31C505.91,546.61 508.54,549.24 509.45,550.03" stroke-width="1.1" fill="none"/>
<ellipse cx="478.22" cy="531.69" rx="1.82" ry="2.18" transform="rotate(-30 478.22 531.69)" stroke-width="1.22" fill="#fff"/>
<ellipse cx="501.83" cy="554.02" rx="1.63" ry="2.18" transform="rotate(-30 501.83 554.02)" stroke-width="1.22" fill="#fff"/>
<path d="M502.73,562.73C503.25,562.04 504.55,559.41 505.82,558.56C507.09,557.71 509.06,557.5 510.36,557.65C511.66,557.8 513.17,558.26 513.63,559.47C514.08,560.68 513.17,564.01 513.08,564.91" stroke-width="1.22" fill="none"/>
<polygon points="503.1,572.54 514.9,567.64 517.98,571.27 517.26,576.71 508.54,584.88 501.64,582.71" stroke-width="1.34" fill="#fff"/>
<polyline points="503.1,572.54 506.37,576.17 517.26,571.27" stroke-width="1.22" fill="none"/>
<line x1="506.37" y1="576.17" x2="505.82" y2="583.98" stroke-width="1.22"/>
<polygon points="512.18,576.71 514.9,575.44 514.9,577.98 512.54,579.44" stroke-width="0.98" fill="none"/>
<g transform="translate(474.5,563.3) rotate(-30)">
<path d="M0,-26L5,-26A16.64,26 0 0 1 5,26L0,26A16.64,26 0 0 1 0,-26Z" stroke-width="1.34" fill="#fff"/>
<ellipse cx="0" cy="0" rx="16.64" ry="26" stroke-width="1.34" fill="#fff"/>
<path d="M2.38,-25.98L3.6,-25.85L4.8,-25.57L5.99,-25.16L7.16,-24.61L8.3,-23.93L9.41,-23.12L10.47,-22.19L11.49,-21.14L12.45,-19.98L13.36,-18.7L14.2,-17.33L14.98,-15.86L15.69,-14.31L16.33,-12.68L16.88,-10.99L17.36,-9.23L17.75,-7.43L18.05,-5.58L18.27,-3.71L18.4,-1.81L18.44,0.09L18.39,1.99L18.25,3.89L18.03,5.76L17.71,7.6L17.31,9.4L16.83,11.15L16.27,12.84L15.63,14.46L14.91,16.01L14.13,17.46L13.28,18.83L12.36,20.09L11.39,21.25L10.37,22.29L9.3,23.21L8.19,24L7.05,24.67L5.88,25.21L4.69,25.61" stroke-width="1.59" fill="none" style="stroke:#000"/>
<path d="M3.98,-25.98L5.2,-25.85L6.4,-25.57L7.59,-25.16L8.76,-24.61L9.9,-23.93L11.01,-23.12L12.07,-22.19L13.09,-21.14L14.05,-19.98L14.96,-18.7L15.8,-17.33L16.58,-15.86L17.29,-14.31L17.93,-12.68L18.48,-10.99L18.96,-9.23L19.35,-7.43L19.65,-5.58L19.87,-3.71L20,-1.81L20.04,0.09L19.99,1.99L19.85,3.89L19.63,5.76L19.31,7.6L18.91,9.4L18.43,11.15L17.87,12.84L17.23,14.46L16.51,16.01L15.73,17.46L14.88,18.83L13.96,20.09L12.99,21.25L11.97,22.29L10.9,23.21L9.79,24L8.65,24.67L7.48,25.21L6.29,25.61" stroke-width="1.1" fill="none" style="stroke:#000"/>
<path d="M-8,-4.6L-1,-4.6A2.65,4.6 0 0 1 -1,4.6L-8,4.6A2.65,4.6 0 0 1 -8,-4.6Z" stroke-width="1.34" fill="#fff"/>
<ellipse cx="-8" cy="0" rx="2.65" ry="4.6" stroke-width="1.34" fill="#fff"/>
<path d="M-6.67,-3.98L0.33,-3.98M-5.51,-1.57L1.49,-1.57M-5.51,1.57L1.49,1.57M-6.67,3.98L0.33,3.98" stroke-width="0.98" fill="none"/>
<ellipse cx="-8" cy="0" rx="1.5" ry="2.6" stroke-width="1.1" fill="#fff"/>
</g>
<line x1="509.45" y1="548.57" x2="524.88" y2="539.5" stroke-width="1.22"/>
<line x1="520.34" y1="563.46" x2="529.42" y2="557.65" stroke-width="1.22"/>
<g transform="translate(524.5,539.5) rotate(-30)">
<path d="M16,-4L21.5,-4A2.31,4 0 0 1 21.5,4L16,4A2.31,4 0 0 1 16,-4Z" stroke-width="1.22" fill="#fff"/>
<ellipse cx="16" cy="0" rx="2.31" ry="4" stroke-width="1.22" fill="#fff"/>
<path d="M0,-2.1L16,-2.1A1.21,2.1 0 0 1 16,2.1L0,2.1A1.21,2.1 0 0 1 0,-2.1Z" stroke-width="1.22" fill="#fff"/>
<ellipse cx="0" cy="0" rx="1.21" ry="2.1" stroke-width="1.22" fill="#fff"/>
<path d="M1.5,-2.1L0.2,2.1M2.95,-2.1L1.65,2.1M4.4,-2.1L3.1,2.1M5.85,-2.1L4.55,2.1M7.3,-2.1L6,2.1M8.75,-2.1L7.45,2.1M10.2,-2.1L8.9,2.1M11.65,-2.1L10.35,2.1M13.1,-2.1L11.8,2.1M14.55,-2.1L13.25,2.1M16,-2.1L14.7,2.1" stroke-width="0.98" fill="none"/>
<path d="M16,-4L21.5,-4A2.31,4 0 0 1 21.5,4L16,4A2.31,4 0 0 1 16,-4Z" stroke-width="1.22" fill="#fff"/>
<ellipse cx="16" cy="0" rx="2.31" ry="4" stroke-width="1.22" fill="#fff"/>
<path d="M20.7,-3.94L20.86,-3.88L21.01,-3.8L21.16,-3.71L21.31,-3.6L21.45,-3.46L21.59,-3.32L21.72,-3.15L21.84,-2.97L21.96,-2.78L22.07,-2.57L22.17,-2.35L22.26,-2.12L22.34,-1.88L22.41,-1.63L22.47,-1.37L22.52,-1.1L22.56,-0.83L22.59,-0.56L22.6,-0.28L22.61,0L22.6,0.28L22.59,0.56L22.56,0.83L22.52,1.1L22.47,1.37L22.41,1.63L22.34,1.88L22.26,2.12L22.17,2.35L22.07,2.57L21.96,2.78L21.84,2.97L21.72,3.15L21.59,3.32L21.45,3.46L21.31,3.6L21.16,3.71L21.01,3.8L20.86,3.88L20.7,3.94" stroke-width="0.98" fill="none" style="stroke:#000"/>
</g>
<g transform="translate(529.5,557.5) rotate(-30)">
<path d="M16,-4L21.5,-4A2.31,4 0 0 1 21.5,4L16,4A2.31,4 0 0 1 16,-4Z" stroke-width="1.22" fill="#fff"/>
<ellipse cx="16" cy="0" rx="2.31" ry="4" stroke-width="1.22" fill="#fff"/>
<path d="M0,-2.1L16,-2.1A1.21,2.1 0 0 1 16,2.1L0,2.1A1.21,2.1 0 0 1 0,-2.1Z" stroke-width="1.22" fill="#fff"/>
<ellipse cx="0" cy="0" rx="1.21" ry="2.1" stroke-width="1.22" fill="#fff"/>
<path d="M1.5,-2.1L0.2,2.1M2.95,-2.1L1.65,2.1M4.4,-2.1L3.1,2.1M5.85,-2.1L4.55,2.1M7.3,-2.1L6,2.1M8.75,-2.1L7.45,2.1M10.2,-2.1L8.9,2.1M11.65,-2.1L10.35,2.1M13.1,-2.1L11.8,2.1M14.55,-2.1L13.25,2.1M16,-2.1L14.7,2.1" stroke-width="0.98" fill="none"/>
<path d="M16,-4L21.5,-4A2.31,4 0 0 1 21.5,4L16,4A2.31,4 0 0 1 16,-4Z" stroke-width="1.22" fill="#fff"/>
<ellipse cx="16" cy="0" rx="2.31" ry="4" stroke-width="1.22" fill="#fff"/>
<path d="M20.7,-3.94L20.86,-3.88L21.01,-3.8L21.16,-3.71L21.31,-3.6L21.45,-3.46L21.59,-3.32L21.72,-3.15L21.84,-2.97L21.96,-2.78L22.07,-2.57L22.17,-2.35L22.26,-2.12L22.34,-1.88L22.41,-1.63L22.47,-1.37L22.52,-1.1L22.56,-0.83L22.59,-0.56L22.6,-0.28L22.61,0L22.6,0.28L22.59,0.56L22.56,0.83L22.52,1.1L22.47,1.37L22.41,1.63L22.34,1.88L22.26,2.12L22.17,2.35L22.07,2.57L21.96,2.78L21.84,2.97L21.72,3.15L21.59,3.32L21.45,3.46L21.31,3.6L21.16,3.71L21.01,3.8L20.86,3.88L20.7,3.94" stroke-width="0.98" fill="none" style="stroke:#000"/>
</g>
<g transform="translate(88.3,261.3) rotate(-7)"><path d="M-7.4,0 L-7.4,5 L-3.6,7.6 L4.4,7 L7.4,4.6 L7.4,0" stroke-width="1.34" fill="#fff"/><path d="M-3.6,2.6 L-3.6,7.6 M4.4,2.4 L4.4,7" stroke-width="1.1" fill="none"/><ellipse cx="0" cy="0" rx="7.4" ry="3.5" stroke-width="1.34" fill="#fff"/><path d="M-3.4,7.4 L-3.4,15.5 A3.4,1.6 0 0 0 3.4,15.5 L3.4,7.2" stroke-width="1.22" fill="#fff"/><path d="M-3.4,9.6 A3.4,1.4 0 0 0 3.4,9.4 M-3.4,11.6 A3.4,1.4 0 0 0 3.4,11.4 M-3.4,13.6 A3.4,1.4 0 0 0 3.4,13.4" stroke-width="0.98" fill="none"/></g>
<ellipse cx="93.6" cy="282.4" rx="6.8" ry="3.4" transform="rotate(-8 93.6 282.4)" stroke-width="1.46" fill="#fff"/>
<ellipse cx="93.8" cy="282.5" rx="4" ry="1.8" transform="rotate(-8 93.8 282.5)" stroke-width="1.1" fill="#444"/>
<ellipse cx="199.6" cy="442.8" rx="6.3" ry="3.6" transform="rotate(-5 199.6 442.8)" stroke-width="1.46" fill="#fff"/>
<ellipse cx="199.8" cy="443" rx="3.8" ry="1.8" transform="rotate(-5 199.8 443)" stroke-width="1.1" fill="#444"/>
<g transform="translate(203.9,462.8) rotate(-8)"><path d="M-6.6,0 L-6.6,3.4 A6.6,3.3 0 0 0 6.6,3.4 L6.6,0" stroke-width="1.34" fill="#fff"/><ellipse cx="0" cy="0" rx="6.6" ry="3.3" stroke-width="1.34" fill="#fff"/><path d="M-3.3,0.5 L-3.3,-11.5 A3.3,1.6 0 0 1 3.3,-11.5 L3.3,0.5 A3.3,1.6 0 0 1 -3.3,0.5" stroke-width="1.22" fill="#fff"/><path d="M-3.3,-9.4 A3.3,1.4 0 0 0 3.3,-9.6 M-3.3,-7.2 A3.3,1.4 0 0 0 3.3,-7.4 M-3.3,-5 A3.3,1.4 0 0 0 3.3,-5.2 M-3.3,-2.8 A3.3,1.4 0 0 0 3.3,-3" stroke-width="0.98" fill="none"/></g>
<ellipse cx="226.1" cy="695" rx="4.6" ry="3.3" transform="rotate(-55 226.1 695)" stroke-width="1.22" fill="#fff"/>
<path d="M220.3,688.2 q1.2,2.8 3.2,1.8 M223.8,685.3 q2.6,0.4 2,3" stroke-width="1.22" fill="none"/>
<g transform="translate(311,743.3) rotate(210)">
<path d="M20,-3.2 L0,-3.2 M20,3.2 L0,3.2" stroke-width="1.28" fill="none"/>
<ellipse cx="0" cy="0" rx="1.85" ry="3.2" stroke-width="1.28" fill="#fff"/>
<ellipse cx="0" cy="0" rx="0.98" ry="1.7" stroke-width="1.1" fill="#555"/>
<path d="M72,-3.2 L90,-3.2 A1.9,3.2 0 0 1 90,3.2 L72,3.2" stroke-width="1.28" fill="#fff"/>
<line x1="22" y1="0" x2="70" y2="0" stroke-width="1.22" stroke-dasharray="20 2.5 1.5 2.5"/>
</g>
<line x1="291" y1="674.5" x2="305" y2="682" stroke-width="1.22"/>
<g transform="translate(329.5,695.6) rotate(210)">
<path d="M4,-2.6L27,-2.6A1.5,2.6 0 0 1 27,2.6L4,2.6A1.5,2.6 0 0 1 4,-2.6Z" stroke-width="1.22" fill="#fff"/>
<ellipse cx="4" cy="0" rx="1.5" ry="2.6" stroke-width="1.22" fill="#fff"/>
<path d="M26.8,-2.6L25.5,2.6M24.9,-2.6L23.6,2.6M23,-2.6L21.7,2.6M21.1,-2.6L19.8,2.6M19.2,-2.6L17.9,2.6M17.3,-2.6L16,2.6" stroke-width="0.98" fill="none"/>
<path d="M2.5,-5.6L4,-5.6A3.23,5.6 0 0 1 4,5.6L2.5,5.6A3.23,5.6 0 0 1 2.5,-5.6Z" stroke-width="1.22" fill="#fff"/>
<ellipse cx="2.5" cy="0" rx="3.23" ry="5.6" stroke-width="1.22" fill="#fff"/>
<path d="M-2.5,-4.6L2.5,-4.6A2.65,4.6 0 0 1 2.5,4.6L-2.5,4.6A2.65,4.6 0 0 1 -2.5,-4.6Z" stroke-width="1.22" fill="#fff"/>
<ellipse cx="-2.5" cy="0" rx="2.65" ry="4.6" stroke-width="1.22" fill="#fff"/>
<ellipse cx="-2.5" cy="0" rx="1.73" ry="3" stroke-width="0.98" fill="#fff"/>
</g>
<g transform="translate(444.6,686.6) rotate(210)">
<path d="M0,-1.9L43,-1.9A1.1,1.9 0 0 1 43,1.9L0,1.9A1.1,1.9 0 0 1 0,-1.9Z" stroke-width="1.22" fill="#fff"/>
<ellipse cx="0" cy="0" rx="1.1" ry="1.9" stroke-width="1.22" fill="#fff"/>
</g>
<g transform="translate(458.2,694.3) rotate(210)">
<ellipse cx="8.5" cy="0" rx="1.38" ry="2.4" stroke-width="1.1" fill="none"/>
<ellipse cx="6.8" cy="0" rx="1.38" ry="2.4" stroke-width="1.1" fill="none"/>
<ellipse cx="5.1" cy="0" rx="1.38" ry="2.4" stroke-width="1.1" fill="none"/>
<ellipse cx="3.4" cy="0" rx="1.38" ry="2.4" stroke-width="1.1" fill="none"/>
<ellipse cx="1.7" cy="0" rx="1.38" ry="2.4" stroke-width="1.1" fill="none"/>
<ellipse cx="0" cy="0" rx="1.38" ry="2.4" stroke-width="1.1" fill="#fff"/>
</g>
<polygon points="417.8,602.9 424.6,598.3 442.3,608.9 442.3,615.7 435.2,619.5 417.8,608.2" stroke-width="1.34" fill="#fff"/>
<polyline points="417.8,602.9 435.2,612.7 442.3,608.9" stroke-width="1.22" fill="none"/>
<line x1="435.2" y1="612.7" x2="435.2" y2="619.5" stroke-width="1.22"/>
<line x1="420.29" y1="604.3" x2="427.09" y2="599.7" stroke-width="0.98"/>
<line x1="422.77" y1="605.7" x2="429.57" y2="601.1" stroke-width="0.98"/>
<line x1="425.26" y1="607.1" x2="432.06" y2="602.5" stroke-width="0.98"/>
<line x1="427.74" y1="608.5" x2="434.54" y2="603.9" stroke-width="0.98"/>
<line x1="430.23" y1="609.9" x2="437.03" y2="605.3" stroke-width="0.98"/>
<line x1="432.71" y1="611.3" x2="439.51" y2="606.7" stroke-width="0.98"/>
<circle cx="438.6" cy="613.8" r="1.3" stroke-width="0.98" fill="#fff"/>
<path d="M418.2,606.8 C415.5,607.5 415,611.5 412.5,611.8 C410,612 409,609.2 406.5,609.8 C404.5,610.3 403.8,611.8 402.6,612.8" stroke-width="2.68" fill="none"/>
<path d="M418.2,606.8 C415.5,607.5 415,611.5 412.5,611.8 C410,612 409,609.2 406.5,609.8 C404.5,610.3 403.8,611.8 402.6,612.8" stroke-width="0.67" fill="none" style="stroke:#fff"/>
<g transform="translate(401.5,613.2) rotate(155)">
<ellipse cx="8" cy="0" rx="1.1" ry="1.9" stroke-width="0.98" fill="none"/>
<ellipse cx="6.4" cy="0" rx="1.1" ry="1.9" stroke-width="0.98" fill="none"/>
<ellipse cx="4.8" cy="0" rx="1.1" ry="1.9" stroke-width="0.98" fill="none"/>
<ellipse cx="3.2" cy="0" rx="1.1" ry="1.9" stroke-width="0.98" fill="none"/>
<ellipse cx="1.6" cy="0" rx="1.1" ry="1.9" stroke-width="0.98" fill="none"/>
<ellipse cx="0" cy="0" rx="1.1" ry="1.9" stroke-width="0.98" fill="#fff"/>
</g>
<polygon points="78.4,808.97 91.71,788.4 95.34,790.82 95.1,793 115.07,781.5 118.34,783.56 118.34,800.26 95.34,812.12 95.34,818.65" stroke-width="1.83" fill="#fff"/>
<polyline points="81.79,810.42 94.74,790.57 95.1,796.02 117.85,784.77" stroke-width="1.34" fill="none"/>
<polyline points="95.1,796.02 95.34,812.12" stroke-width="1.34" fill="none"/>
<text transform="translate(93.2,811.4) skewY(-26.5) scale(0.68,1)" font-size="14.4" font-weight="bold" style="stroke-width:0.55px">FWD</text>
</svg>
</body></html>
